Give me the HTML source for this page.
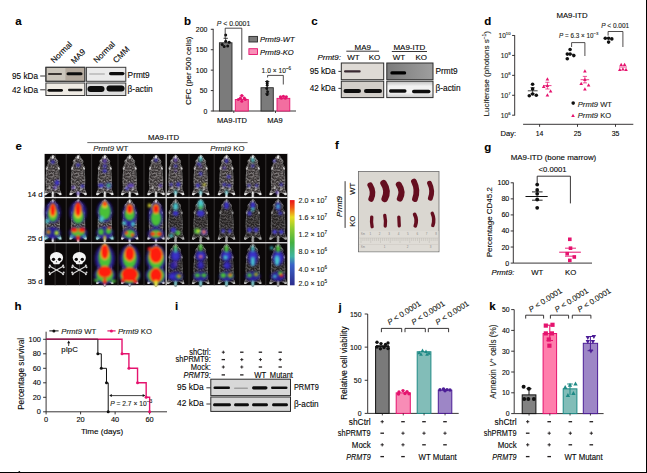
<!DOCTYPE html><html><head><meta charset="utf-8"><style>html,body{margin:0;padding:0;background:#fff;overflow:hidden;}svg{display:block;font-family:"Liberation Sans",sans-serif;}text{stroke:#231f20;stroke-width:0.12px;}text[fill="#888"]{stroke:none;}</style></head><body><svg width="647" height="473" viewBox="0 0 647 473"><rect width="647" height="473" fill="#fff"/><text x="15.3" y="25" font-size="11.5" font-weight="bold" fill="#000" >a</text>
<text x="184" y="25.2" font-size="11.5" font-weight="bold" fill="#000" >b</text>
<text x="311.2" y="25.2" font-size="11.5" font-weight="bold" fill="#000" >c</text>
<text x="484.3" y="25.3" font-size="11.5" font-weight="bold" fill="#000" >d</text>
<text x="15.5" y="149.6" font-size="11.5" font-weight="bold" fill="#000" >e</text>
<text x="335" y="149.3" font-size="11.5" font-weight="bold" fill="#000" >f</text>
<text x="484.2" y="150.8" font-size="11.5" font-weight="bold" fill="#000" >g</text>
<text x="14.6" y="310" font-size="11.5" font-weight="bold" fill="#000" >h</text>
<text x="175" y="310.2" font-size="11.5" font-weight="bold" fill="#000" >i</text>
<text x="338.5" y="311" font-size="11.5" font-weight="bold" fill="#000" >j</text>
<text x="489.2" y="310.2" font-size="11.5" font-weight="bold" fill="#000" >k</text>
<rect x="646" y="0" width="1" height="473" fill="#000" />
<rect x="0" y="472" width="647" height="1" fill="#000" />
<text x="54" y="63.6" font-size="8.2" transform="rotate(-45 54 63.6)" >Normal</text>
<text x="74.2" y="64.3" font-size="8.2" transform="rotate(-45 74.2 64.3)" >MA9</text>
<text x="96.8" y="63.6" font-size="8.2" transform="rotate(-45 96.8 63.6)" >Normal</text>
<text x="116.3" y="63.6" font-size="8.2" transform="rotate(-45 116.3 63.6)" >CMM</text>
<text x="38.0" y="79.3" font-size="8.2" text-anchor="end" >95 kDa</text>
<line x1="40.2" y1="76.0" x2="45.5" y2="76.0" stroke="#231f20" stroke-width="0.9" />
<text x="38.0" y="93" font-size="8.2" text-anchor="end" >42 kDa</text>
<line x1="40.2" y1="89.8" x2="45.5" y2="89.8" stroke="#231f20" stroke-width="0.9" />
<defs><linearGradient id="ga1" x1="0" x2="1"><stop offset="0" stop-color="#cfc9c0"/><stop offset="0.45" stop-color="#c9c2b8"/><stop offset="0.55" stop-color="#b5aa9e"/><stop offset="1" stop-color="#b9ae a2"/></linearGradient><filter id="bl" x="-20%" y="-50%" width="140%" height="200%"><feGaussianBlur stdDeviation="0.6"/></filter><filter id="bl2" x="-30%" y="-30%" width="160%" height="160%"><feGaussianBlur stdDeviation="1"/></filter></defs>
<rect x="45.9" y="67.3" width="38.9" height="14" fill="#cbc5bb" stroke="#3a3a3a" stroke-width="1" />
<rect x="65.4" y="67.8" width="19" height="13" fill="#b4a99d" />
<rect x="45.9" y="67.3" width="38.9" height="14" fill="none" stroke="#3a3a3a" stroke-width="1" />
<rect x="45.9" y="83" width="38.9" height="12.5" fill="#efebe4" stroke="#3a3a3a" stroke-width="1" />
<rect x="86.4" y="67.3" width="39.4" height="14" fill="#eaeaea" stroke="#3a3a3a" stroke-width="1" />
<rect x="86.4" y="83" width="39.4" height="12.5" fill="#dedede" stroke="#3a3a3a" stroke-width="1" />
<rect x="48" y="73.1" width="14" height="1.8" rx="0.9" fill="#3a3530" opacity="1" filter="url(#bl)"/>
<rect x="66.5" y="72.3" width="16.0" height="3" rx="1.5" fill="#111" opacity="1" filter="url(#bl)"/>
<rect x="47.5" y="88.89999999999999" width="15.5" height="2.8" rx="1.4" fill="#111" opacity="1" filter="url(#bl)"/>
<rect x="68" y="88.85" width="14.5" height="2.3" rx="1.15" fill="#1a1a1a" opacity="1" filter="url(#bl)"/>
<rect x="89" y="73.25" width="16" height="1.5" rx="0.75" fill="#b8b8b8" opacity="1" filter="url(#bl)"/>
<rect x="109" y="72.0" width="15.5" height="3.2" rx="1.6" fill="#0a0a0a" opacity="1" filter="url(#bl)"/>
<rect x="87.5" y="86.0" width="17.0" height="6" rx="3.0" fill="#0a0a0a" opacity="1" filter="url(#bl)"/>
<rect x="106.5" y="85.5" width="18.0" height="6" rx="3.0" fill="#0a0a0a" opacity="1" filter="url(#bl)"/>
<text x="127.6" y="78" font-size="8.3" >Prmt9</text>
<text x="127.6" y="91.5" font-size="8.3" >β-actin</text>
<line x1="213.2" y1="28.799999999999997" x2="213.2" y2="111.4" stroke="#231f20" stroke-width="0.9" />
<line x1="213.2" y1="111.0" x2="296" y2="111.0" stroke="#231f20" stroke-width="0.9" />
<line x1="210.79999999999998" y1="111.0" x2="213.2" y2="111.0" stroke="#231f20" stroke-width="0.9" />
<text transform="translate(207.39999999999998,113.5) scale(0.95,1)" font-size="7.3" text-anchor="end">0</text>
<line x1="210.79999999999998" y1="90.575" x2="213.2" y2="90.575" stroke="#231f20" stroke-width="0.9" />
<text transform="translate(207.39999999999998,93.075) scale(0.95,1)" font-size="7.3" text-anchor="end">50</text>
<line x1="210.79999999999998" y1="70.15" x2="213.2" y2="70.15" stroke="#231f20" stroke-width="0.9" />
<text transform="translate(207.39999999999998,72.65) scale(0.95,1)" font-size="7.3" text-anchor="end">100</text>
<line x1="210.79999999999998" y1="49.724999999999994" x2="213.2" y2="49.724999999999994" stroke="#231f20" stroke-width="0.9" />
<text transform="translate(207.39999999999998,52.224999999999994) scale(0.95,1)" font-size="7.3" text-anchor="end">150</text>
<line x1="210.79999999999998" y1="29.299999999999997" x2="213.2" y2="29.299999999999997" stroke="#231f20" stroke-width="0.9" />
<text transform="translate(207.39999999999998,31.799999999999997) scale(0.95,1)" font-size="7.3" text-anchor="end">200</text>
<line x1="233.8" y1="111.0" x2="233.8" y2="113.0" stroke="#231f20" stroke-width="0.8" />
<line x1="275.5" y1="111.0" x2="275.5" y2="113.0" stroke="#231f20" stroke-width="0.8" />
<text x="191.1" y="70.7" font-size="7.9" text-anchor="middle" transform="rotate(-90 191.1 70.7)" >CFC (per 500 cells)</text>
<rect x="219.4" y="42.78049999999999" width="12.599999999999994" height="68.21950000000001" fill="#7b7b7b" stroke="#2a2a2a" stroke-width="0.9" />
<rect x="235.3" y="99.562" width="13.0" height="11.438000000000002" fill="#f36ea0" stroke="#e5136e" stroke-width="0.9" />
<rect x="261" y="87.71549999999999" width="12.300000000000011" height="23.28450000000001" fill="#7b7b7b" stroke="#2a2a2a" stroke-width="0.9" />
<rect x="277" y="98.3365" width="12.800000000000011" height="12.663499999999999" fill="#f36ea0" stroke="#e5136e" stroke-width="0.9" />
<line x1="225.7" y1="42.78049999999999" x2="225.7" y2="38.28699999999999" stroke="#111" stroke-width="0.8" />
<line x1="223.5" y1="38.28699999999999" x2="227.89999999999998" y2="38.28699999999999" stroke="#111" stroke-width="0.8" />
<circle cx="225.7" cy="35.01899999999999" r="1.5" fill="#111" />
<circle cx="222.2" cy="44.41449999999999" r="1.5" fill="#111" />
<circle cx="225.7" cy="41.14649999999999" r="1.5" fill="#111" />
<circle cx="229.2" cy="42.372" r="1.5" fill="#111" />
<circle cx="224.2" cy="46.456999999999994" r="1.5" fill="#111" />
<circle cx="227.7" cy="46.04849999999999" r="1.5" fill="#111" />
<line x1="241.8" y1="99.562" x2="241.8" y2="95.8855" stroke="#e5136e" stroke-width="0.8" />
<line x1="239.60000000000002" y1="95.8855" x2="244.0" y2="95.8855" stroke="#e5136e" stroke-width="0.8" />
<circle cx="241.8" cy="95.477" r="1.5" fill="#e5136e" />
<circle cx="238.3" cy="99.562" r="1.5" fill="#e5136e" />
<circle cx="245.3" cy="99.562" r="1.5" fill="#e5136e" />
<circle cx="241.8" cy="101.196" r="1.5" fill="#e5136e" />
<circle cx="240.3" cy="98.3365" r="1.5" fill="#e5136e" />
<circle cx="244.3" cy="97.928" r="1.5" fill="#e5136e" />
<line x1="267.2" y1="94.66" x2="267.2" y2="81.588" stroke="#111" stroke-width="0.9" />
<line x1="265" y1="81.588" x2="269.4" y2="81.588" stroke="#111" stroke-width="0.8" />
<line x1="265" y1="93.843" x2="269.4" y2="93.843" stroke="#111" stroke-width="0.8" />
<circle cx="267.2" cy="81.588" r="1.4" fill="#111" />
<circle cx="267.2" cy="85.2645" r="1.4" fill="#111" />
<circle cx="266.7" cy="88.5325" r="1.4" fill="#111" />
<circle cx="267.7" cy="91.8005" r="1.4" fill="#111" />
<circle cx="267.2" cy="94.66" r="1.4" fill="#111" />
<circle cx="267.2" cy="83.222" r="1.4" fill="#111" />
<line x1="283.4" y1="98.3365" x2="283.4" y2="96.294" stroke="#e5136e" stroke-width="0.8" />
<line x1="281.2" y1="96.294" x2="285.59999999999997" y2="96.294" stroke="#e5136e" stroke-width="0.8" />
<circle cx="280.4" cy="96.7025" r="1.5" fill="#e5136e" />
<circle cx="283.4" cy="96.294" r="1.5" fill="#e5136e" />
<circle cx="286.4" cy="96.7025" r="1.5" fill="#e5136e" />
<circle cx="281.4" cy="98.3365" r="1.5" fill="#e5136e" />
<circle cx="285.4" cy="98.3365" r="1.5" fill="#e5136e" />
<path d="M225.2,38.6 V28.2 H241.8 V59.8" fill="none" stroke="#231f20" stroke-width="0.8" />
<text x="216.7" y="25.9" font-size="7" ></text>
<text x="216.7" y="25.9" font-size="6.9" fill="#231f20"><tspan font-style="italic">P</tspan> &lt; 0.0001</text>
<path d="M267.6,77.5 V75.4 H283.3 V84.5" fill="none" stroke="#231f20" stroke-width="0.8" />
<text x="261.6" y="72.6" font-size="6.7" fill="#231f20">1.0 × 10<tspan dy="-3" font-size="4.5">−6</tspan></text>
<rect x="248.9" y="36.4" width="8.6" height="5.6" fill="#7b7b7b" stroke="#2a2a2a" stroke-width="0.9" />
<rect x="248.9" y="48.7" width="8.6" height="5.8" fill="#f890b8" stroke="#e5136e" stroke-width="0.9" />
<text x="260" y="42.3" font-size="7.6" font-style="italic" >Prmt9-WT</text>
<text x="260" y="54.6" font-size="7.6" font-style="italic" >Prmt9-KO</text>
<text x="217" y="123" font-size="7.5" >MA9-ITD</text>
<text x="267.2" y="123" font-size="7.5" >MA9</text>
<text x="362.7" y="49.5" font-size="8" text-anchor="middle" >MA9</text>
<line x1="346.3" y1="51.2" x2="379.1" y2="51.2" stroke="#231f20" stroke-width="0.9" />
<text x="409.4" y="49.5" font-size="8" text-anchor="middle" >MA9-ITD</text>
<line x1="391.8" y1="51.5" x2="427" y2="51.5" stroke="#231f20" stroke-width="0.9" />
<text x="317.4" y="59.8" font-size="8" font-style="italic" >Prmt9:</text>
<text x="347.2" y="59.8" font-size="8" >WT</text>
<text x="368.7" y="59.8" font-size="8" >KO</text>
<text x="392.7" y="59.8" font-size="8" >WT</text>
<text x="415.5" y="59.8" font-size="8" >KO</text>
<text x="335.6" y="73.7" font-size="8.2" text-anchor="end" >95 kDa</text>
<line x1="338.4" y1="71.4" x2="341.3" y2="71.4" stroke="#231f20" stroke-width="0.9" />
<text x="335.6" y="90.8" font-size="8.2" text-anchor="end" >42 kDa</text>
<line x1="338.4" y1="88.4" x2="341.3" y2="88.4" stroke="#231f20" stroke-width="0.9" />
<rect x="341.3" y="63" width="42.4" height="16.7" fill="#dedad5" stroke="#2c2c2c" stroke-width="1" />
<rect x="341.3" y="81.2" width="42.4" height="16.4" fill="#d2cec9" stroke="#2c2c2c" stroke-width="1" />
<defs><linearGradient id="gc2" x1="0" x2="1"><stop offset="0" stop-color="#7c7c7c"/><stop offset="1" stop-color="#9e9e9e"/></linearGradient><linearGradient id="gc3" x1="0" x2="0" y1="0" y2="1"><stop offset="0" stop-color="#bdbdbd"/><stop offset="0.3" stop-color="#f2f2f2"/><stop offset="0.7" stop-color="#f2f2f2"/><stop offset="1" stop-color="#c8c8c8"/></linearGradient></defs>
<rect x="386.8" y="63" width="46.2" height="16.7" fill="url(#gc2)" stroke="#2c2c2c" stroke-width="1" />
<rect x="386.8" y="81.2" width="46.2" height="16.4" fill="url(#gc3)" stroke="#2c2c2c" stroke-width="1" />
<rect x="344" y="70.25" width="16.69999999999999" height="2.3" rx="1.15" fill="#3a2a30" opacity="1" filter="url(#bl)"/>
<rect x="343.5" y="88.9" width="17.5" height="4.2" rx="2.1" fill="#0a0a0a" opacity="1" filter="url(#bl)"/>
<rect x="364" y="89.0" width="18" height="4" rx="2.0" fill="#0a0a0a" opacity="1" filter="url(#bl)"/>
<rect x="390.3" y="71.30000000000001" width="15.899999999999977" height="3.2" rx="1.6" fill="#050505" opacity="1" filter="url(#bl)"/>
<rect x="389" y="89.35" width="17.5" height="3.3" rx="1.65" fill="#0a0a0a" opacity="1" filter="url(#bl)"/>
<rect x="412" y="89.7" width="18.5" height="3.6" rx="1.8" fill="#0a0a0a" opacity="1" filter="url(#bl)"/>
<text x="435.5" y="74" font-size="8.3" >Prmt9</text>
<text x="435.5" y="91.3" font-size="8.3" >β-actin</text>
<text x="572" y="17.7" font-size="7.8" text-anchor="middle" >MA9-ITD</text>
<line x1="514.7" y1="35.18000000000001" x2="514.7" y2="115.5" stroke="#231f20" stroke-width="0.9" />
<line x1="512.1" y1="115.2" x2="514.7" y2="115.2" stroke="#231f20" stroke-width="0.9" />
<text x="510.50000000000006" y="117.5" font-size="6.6" text-anchor="end" fill="#231f20">10<tspan dy="-2.6" font-size="4.2">6</tspan></text>
<line x1="512.1" y1="95.27000000000001" x2="514.7" y2="95.27000000000001" stroke="#231f20" stroke-width="0.9" />
<text x="510.50000000000006" y="97.57000000000001" font-size="6.6" text-anchor="end" fill="#231f20">10<tspan dy="-2.6" font-size="4.2">7</tspan></text>
<line x1="512.1" y1="75.34" x2="514.7" y2="75.34" stroke="#231f20" stroke-width="0.9" />
<text x="510.50000000000006" y="77.64" font-size="6.6" text-anchor="end" fill="#231f20">10<tspan dy="-2.6" font-size="4.2">8</tspan></text>
<line x1="512.1" y1="55.410000000000004" x2="514.7" y2="55.410000000000004" stroke="#231f20" stroke-width="0.9" />
<text x="510.50000000000006" y="57.71" font-size="6.6" text-anchor="end" fill="#231f20">10<tspan dy="-2.6" font-size="4.2">9</tspan></text>
<line x1="512.1" y1="35.480000000000004" x2="514.7" y2="35.480000000000004" stroke="#231f20" stroke-width="0.9" />
<text x="510.50000000000006" y="37.78" font-size="6.6" text-anchor="end" fill="#231f20">10<tspan dy="-2.6" font-size="4.2">10</tspan></text>
<text transform="translate(489.0,73.8) rotate(-90)" font-size="8.1" text-anchor="middle" fill="#231f20">Luciferase (photons s<tspan dy="-2.6" font-size="4.8">−1</tspan><tspan dy="2.6">)</tspan></text>
<line x1="523.1" y1="124.3" x2="633.3" y2="124.3" stroke="#231f20" stroke-width="0.9" />
<line x1="539.6" y1="124.3" x2="539.6" y2="126.8" stroke="#231f20" stroke-width="0.9" />
<text x="539.6" y="136.1" font-size="6.9" text-anchor="middle" >14</text>
<line x1="577.5" y1="124.3" x2="577.5" y2="126.8" stroke="#231f20" stroke-width="0.9" />
<text x="577.5" y="136.1" font-size="6.9" text-anchor="middle" >25</text>
<line x1="615.5" y1="124.3" x2="615.5" y2="126.8" stroke="#231f20" stroke-width="0.9" />
<text x="615.5" y="136.1" font-size="6.9" text-anchor="middle" >35</text>
<text x="500.6" y="136.1" font-size="7.6" >Day:</text>
<circle cx="532.6" cy="84.3" r="1.8" fill="#111" />
<circle cx="529.3" cy="95.8" r="1.8" fill="#111" />
<circle cx="532.6" cy="94" r="1.8" fill="#111" />
<circle cx="536.3" cy="95.3" r="1.8" fill="#111" />
<circle cx="532.6" cy="89" r="1.8" fill="#111" />
<line x1="527.8" y1="90.8" x2="537.6" y2="90.8" stroke="#111" stroke-width="0.8" />
<line x1="530.5" y1="87.6" x2="534.7" y2="87.6" stroke="#111" stroke-width="0.7" />
<line x1="530.5" y1="93.6" x2="534.7" y2="93.6" stroke="#111" stroke-width="0.7" />
<line x1="532.6" y1="87.6" x2="532.6" y2="93.6" stroke="#111" stroke-width="0.7" />
<path d="M547.4,77.15599999999999 L549.1999999999999,80.396 L545.6,80.396 Z" fill="#e5136e"/>
<path d="M543.7,84.65599999999999 L545.5,87.896 L541.9000000000001,87.896 Z" fill="#e5136e"/>
<path d="M547.4,83.65599999999999 L549.1999999999999,86.896 L545.6,86.896 Z" fill="#e5136e"/>
<path d="M550.6,89.256 L552.4,92.49600000000001 L548.8000000000001,92.49600000000001 Z" fill="#e5136e"/>
<path d="M547.4,93.356 L549.1999999999999,96.596 L545.6,96.596 Z" fill="#e5136e"/>
<line x1="543.2" y1="85.6" x2="551.5" y2="85.6" stroke="#e5136e" stroke-width="0.8" />
<line x1="545.3" y1="82.3" x2="549.5" y2="82.3" stroke="#e5136e" stroke-width="0.7" />
<line x1="545.3" y1="89" x2="549.5" y2="89" stroke="#e5136e" stroke-width="0.7" />
<line x1="547.4" y1="82.3" x2="547.4" y2="89" stroke="#e5136e" stroke-width="0.7" />
<circle cx="570.1" cy="49.5" r="1.8" fill="#111" />
<circle cx="567.3" cy="54.1" r="1.8" fill="#111" />
<circle cx="570.1" cy="54.1" r="1.8" fill="#111" />
<circle cx="573.8" cy="55.6" r="1.8" fill="#111" />
<circle cx="567.3" cy="58.7" r="1.8" fill="#111" />
<line x1="566" y1="54.3" x2="574.5" y2="54.3" stroke="#111" stroke-width="0.8" />
<path d="M584.9,69.256 L586.6999999999999,72.49600000000001 L583.1,72.49600000000001 Z" fill="#e5136e"/>
<path d="M584.9,77.756 L586.6999999999999,80.99600000000001 L583.1,80.99600000000001 Z" fill="#e5136e"/>
<path d="M581.2,81.856 L583.0,85.096 L579.4000000000001,85.096 Z" fill="#e5136e"/>
<path d="M588.6,83.356 L590.4,86.596 L586.8000000000001,86.596 Z" fill="#e5136e"/>
<path d="M584.9,87.356 L586.6999999999999,90.596 L583.1,90.596 Z" fill="#e5136e"/>
<line x1="580.6" y1="79.7" x2="589.2" y2="79.7" stroke="#e5136e" stroke-width="0.8" />
<line x1="582.8" y1="76.4" x2="587" y2="76.4" stroke="#e5136e" stroke-width="0.7" />
<line x1="582.8" y1="82.9" x2="587" y2="82.9" stroke="#e5136e" stroke-width="0.7" />
<line x1="584.9" y1="76.4" x2="584.9" y2="82.9" stroke="#e5136e" stroke-width="0.7" />
<circle cx="605.3" cy="38.3" r="1.8" fill="#111" />
<circle cx="608.6" cy="38.3" r="1.8" fill="#111" />
<circle cx="611.8" cy="38.9" r="1.8" fill="#111" />
<circle cx="608.6" cy="42.1" r="1.8" fill="#111" />
<path d="M621.2,62.855999999999995 L623.0,66.096 L619.4000000000001,66.096 Z" fill="#e5136e"/>
<path d="M624.6,62.855999999999995 L626.4,66.096 L622.8000000000001,66.096 Z" fill="#e5136e"/>
<path d="M619.8,67.65599999999999 L621.5999999999999,70.896 L618.0,70.896 Z" fill="#e5136e"/>
<path d="M622.9,67.356 L624.6999999999999,70.596 L621.1,70.596 Z" fill="#e5136e"/>
<path d="M626.0,67.65599999999999 L627.8,70.896 L624.2,70.896 Z" fill="#e5136e"/>
<line x1="619" y1="67" x2="627" y2="67" stroke="#e5136e" stroke-width="0.8" />
<path d="M571.6,47 V42.6 H584.9 V56" fill="none" stroke="#231f20" stroke-width="0.8" />
<path d="M608.1,35.6 V31.5 H622.9 V47" fill="none" stroke="#231f20" stroke-width="0.8" />
<text x="559.1" y="38" font-size="6.3" fill="#231f20"><tspan font-style="italic">P</tspan> = 6.3 × 10<tspan dy="-2.6" font-size="4.3">−3</tspan></text>
<text x="601.2" y="27.8" font-size="6.5" fill="#231f20"><tspan font-style="italic">P</tspan> &lt; 0.001</text>
<circle cx="573.2" cy="103.1" r="1.8" fill="#111" />
<path d="M573,113.856 L574.8,117.096 L571.2,117.096 Z" fill="#e5136e"/>
<text x="577.8" y="106.5" font-size="7.6" fill="#231f20"><tspan font-style="italic">Prmt9</tspan> WT</text>
<text x="577.8" y="118.4" font-size="7.6" fill="#231f20"><tspan font-style="italic">Prmt9</tspan> KO</text>
<text x="163.5" y="140" font-size="7.8" text-anchor="middle" >MA9-ITD</text>
<line x1="87.3" y1="142.6" x2="247.6" y2="142.6" stroke="#555" stroke-width="0.9" />
<text x="93.2" y="151.3" font-size="7.8" fill="#231f20"><tspan font-style="italic">Prmt9</tspan> WT</text>
<text x="210.3" y="151.3" font-size="7.8" fill="#231f20"><tspan font-style="italic">Prmt9</tspan> KO</text>
<text x="42.6" y="197.1" font-size="7.8" text-anchor="end" >14 d</text>
<text x="42.6" y="241.0" font-size="7.8" text-anchor="end" >25 d</text>
<text x="42.6" y="284.1" font-size="7.8" text-anchor="end" >35 d</text>
<defs>
<linearGradient id="cbar" x1="0" x2="0" y1="0" y2="1">
<stop offset="0" stop-color="#e8101a"/><stop offset="0.09" stop-color="#f05a14"/><stop offset="0.2" stop-color="#e8dc20"/>
<stop offset="0.33" stop-color="#90cc30"/><stop offset="0.5" stop-color="#44b040"/><stop offset="0.66" stop-color="#40b4a0"/><stop offset="0.76" stop-color="#3a62c8"/>
<stop offset="1" stop-color="#2c2c8c"/></linearGradient>
<filter id="hb" x="-60%" y="-60%" width="220%" height="220%"><feGaussianBlur stdDeviation="1.0"/></filter>
<filter id="hbb" x="-60%" y="-60%" width="220%" height="220%"><feGaussianBlur stdDeviation="1.3"/></filter>
<filter id="hb2" x="-50%" y="-50%" width="200%" height="200%"><feGaussianBlur stdDeviation="0.55"/></filter>
<filter id="speck" x="-10%" y="-5%" width="120%" height="110%" color-interpolation-filters="sRGB">
<feTurbulence type="fractalNoise" baseFrequency="0.6" numOctaves="2" seed="5" result="t"/>
<feColorMatrix in="t" type="matrix" values="0 0 0 0 0.88 0 0 0 0 0.86 0 0 0 0 0.86 1.15 0 0 0 -0.4" result="w"/>
<feComposite in="w" in2="SourceAlpha" operator="in" result="ws"/>
<feMerge><feMergeNode in="SourceGraphic"/><feMergeNode in="ws"/></feMerge>
</filter>
<path id="mbody" d="M0,0 L1.5,0.9 L2.5,2.8 L3.2,5.0 L4.0,4.8 L4.6,6.4 L4.1,8.6 L5.0,10.4 L6.0,12.2 L6.0,14.2 L5.6,16.5 L6.1,21.0 L6.3,27.0 L5.9,32.0 L6.1,35.0 L7.1,37.4 L7.7,39.6 L6.6,40.4 L4.8,39.2 L3.0,37.8 L1.0,38.4 L0.8,43.0 L-0.8,43.0 L-1.0,38.4 L-3.0,37.8 L-4.8,39.2 L-6.6,40.4 L-7.7,39.6 L-7.1,37.4 L-6.1,35.0 L-5.9,32.0 L-6.3,27.0 L-6.1,21.0 L-5.6,16.5 L-6.0,14.2 L-6.0,12.2 L-5.0,10.4 L-4.1,8.6 L-4.6,6.4 L-4.0,4.8 L-3.2,5.0 L-2.5,2.8 L-1.5,0.9 Z"/>
<g id="mhl" fill="#f2f2f2" opacity="0.9">
<path d="M4.4,11.4 L6.4,13.2 L6.0,15 L5.0,14.4 Z" opacity="0.75"/><path d="M-4.4,11.4 L-6.4,13.2 L-6.0,15 L-5.0,14.4 Z" opacity="0.75"/>
<path d="M4.6,38.6 L7.6,38.4 L8.2,40.6 L6.4,40.8 Z"/><path d="M-4.6,38.6 L-7.6,38.4 L-8.2,40.6 L-6.4,40.8 Z"/>
<rect x="-0.8" y="37" width="1.6" height="6"/><ellipse cx="0" cy="2.2" rx="1" ry="1.8"/>
<ellipse cx="3.6" cy="5.4" rx="0.8" ry="1.1" opacity="0.35"/><ellipse cx="-3.6" cy="5.4" rx="0.8" ry="1.1" opacity="0.35"/>
<ellipse cx="-3" cy="33" rx="1.2" ry="2" opacity="0.45"/><ellipse cx="3" cy="34" rx="1.2" ry="2" opacity="0.45"/>
</g>
</defs>
<rect x="44.6" y="153.9" width="243.4" height="131.29999999999998" fill="#0b0808" />
<rect x="54.6" y="153.9" width="1.0" height="131.29999999999998" fill="#363333" />
<rect x="65.7" y="153.9" width="1.0" height="131.29999999999998" fill="#363333" />
<rect x="79.0" y="153.9" width="1.0" height="131.29999999999998" fill="#363333" />
<rect x="91.1" y="153.9" width="1.0" height="131.29999999999998" fill="#363333" />
<rect x="117.5" y="153.9" width="1.0" height="131.29999999999998" fill="#363333" />
<rect x="143.5" y="153.9" width="1.0" height="131.29999999999998" fill="#363333" />
<rect x="188.5" y="153.9" width="1.0" height="131.29999999999998" fill="#363333" />
<rect x="213.7" y="153.9" width="1.0" height="131.29999999999998" fill="#363333" />
<rect x="239.3" y="153.9" width="1.0" height="131.29999999999998" fill="#363333" />
<rect x="265.3" y="153.9" width="1.0" height="131.29999999999998" fill="#363333" />
<g transform="translate(52.8,155.2) scale(1.078,0.98)"><use href="#mbody" fill="#363131" stroke="#6a6a6a" stroke-width="0.7" stroke-linejoin="round" filter="url(#speck)"/><use href="#mhl" filter="url(#hb2)"/><g filter="url(#hb)"><ellipse cx="0" cy="7" rx="1.8" ry="1.8" fill="#3a30c8"/><ellipse cx="4" cy="28" rx="2.2" ry="2.8" fill="#3a30c8"/><ellipse cx="2" cy="33" rx="1.6" ry="1.6" fill="#6040c0"/></g></g>
<g transform="translate(78.1,155.2) scale(1.078,0.98)"><use href="#mbody" fill="#363131" stroke="#6a6a6a" stroke-width="0.7" stroke-linejoin="round" filter="url(#speck)"/><use href="#mhl" filter="url(#hb2)"/><g filter="url(#hb)"><ellipse cx="0" cy="10" rx="1.8" ry="1.6" fill="#3a30c8"/><ellipse cx="-4.5" cy="33" rx="1.6" ry="1.6" fill="#6040c0"/><ellipse cx="4" cy="31.5" rx="1.8" ry="1.6" fill="#3a30c8"/><ellipse cx="0" cy="39" rx="1.4" ry="1.6" fill="#6040c0"/></g></g>
<g transform="translate(104.8,155.2) scale(1.078,0.98)"><use href="#mbody" fill="#363131" stroke="#6a6a6a" stroke-width="0.7" stroke-linejoin="round" filter="url(#speck)"/><use href="#mhl" filter="url(#hb2)"/><g filter="url(#hb)"><ellipse cx="0" cy="6" rx="1.8" ry="2.2" fill="#6040c0"/><ellipse cx="0" cy="11" rx="1.8" ry="1.6" fill="#3a30c8"/><ellipse cx="0" cy="16" rx="2" ry="1.8" fill="#3a30c8"/><ellipse cx="-3.5" cy="31" rx="2.6" ry="2" fill="#3a30c8"/><ellipse cx="3.5" cy="31" rx="2.6" ry="3" fill="#3a30c8"/><ellipse cx="3.5" cy="31" rx="1.4" ry="1.8" fill="#48c038"/></g></g>
<g transform="translate(129.7,155.2) scale(1.078,0.98)"><use href="#mbody" fill="#363131" stroke="#6a6a6a" stroke-width="0.7" stroke-linejoin="round" filter="url(#speck)"/><use href="#mhl" filter="url(#hb2)"/><g filter="url(#hb)"><ellipse cx="1" cy="31" rx="3" ry="2" fill="#6040c0"/><ellipse cx="-2.5" cy="34" rx="1.6" ry="1.6" fill="#3a30c8"/></g></g>
<g transform="translate(156,155.2) scale(1.078,0.98)"><use href="#mbody" fill="#363131" stroke="#6a6a6a" stroke-width="0.7" stroke-linejoin="round" filter="url(#speck)"/><use href="#mhl" filter="url(#hb2)"/><g filter="url(#hb)"><ellipse cx="0" cy="5" rx="1.6" ry="1.6" fill="#3a30c8"/><ellipse cx="4" cy="31" rx="1.6" ry="1.6" fill="#6040c0"/></g></g>
<g transform="translate(175.6,155.2) scale(1.078,0.98)"><use href="#mbody" fill="#363131" stroke="#6a6a6a" stroke-width="0.7" stroke-linejoin="round" filter="url(#speck)"/><use href="#mhl" filter="url(#hb2)"/><g filter="url(#hb)"><ellipse cx="0" cy="5" rx="1.4" ry="2.2" fill="#6040c0"/><ellipse cx="0" cy="11" rx="1.4" ry="1.6" fill="#3a30c8"/><ellipse cx="-4" cy="30" rx="1.3" ry="1.6" fill="#3a30c8"/><ellipse cx="2.5" cy="30" rx="1.8" ry="2.4" fill="#3a30c8"/><ellipse cx="0" cy="38" rx="1.1" ry="2.4" fill="#48c8d0"/><ellipse cx="0" cy="16" rx="1" ry="1" fill="#6040c0"/></g></g>
<g transform="translate(200.7,155.2) scale(1.078,0.98)"><use href="#mbody" fill="#363131" stroke="#6a6a6a" stroke-width="0.7" stroke-linejoin="round" filter="url(#speck)"/><use href="#mhl" filter="url(#hb2)"/><g filter="url(#hb)"><ellipse cx="0" cy="4" rx="1.4" ry="2.6" fill="#48c8d0"/><ellipse cx="-1.5" cy="9" rx="1.8" ry="1.6" fill="#3a30c8"/><ellipse cx="0" cy="19" rx="1.4" ry="2" fill="#3a30c8"/><ellipse cx="-2.5" cy="31" rx="1.8" ry="2" fill="#3a30c8"/><ellipse cx="3.5" cy="30" rx="1.4" ry="1.2" fill="#e8e830"/><ellipse cx="0" cy="38" rx="1" ry="2.6" fill="#48c8d0"/><ellipse cx="0" cy="12" rx="1" ry="1" fill="#6040c0"/></g></g>
<g transform="translate(226.5,155.2) scale(1.078,0.98)"><use href="#mbody" fill="#363131" stroke="#6a6a6a" stroke-width="0.7" stroke-linejoin="round" filter="url(#speck)"/><use href="#mhl" filter="url(#hb2)"/><g filter="url(#hb)"><ellipse cx="0" cy="6" rx="1.6" ry="2" fill="#3a30c8"/><ellipse cx="-2" cy="13" rx="1.4" ry="1.4" fill="#6040c0"/><ellipse cx="2" cy="22" rx="1.6" ry="1.8" fill="#3a30c8"/><ellipse cx="-2" cy="30" rx="1.6" ry="1.6" fill="#3a30c8"/><ellipse cx="2.5" cy="31" rx="1.6" ry="1.6" fill="#3a30c8"/><ellipse cx="0" cy="38" rx="1" ry="2.4" fill="#48c8d0"/></g></g>
<g transform="translate(252.8,155.2) scale(1.078,0.98)"><use href="#mbody" fill="#363131" stroke="#6a6a6a" stroke-width="0.7" stroke-linejoin="round" filter="url(#speck)"/><use href="#mhl" filter="url(#hb2)"/><g filter="url(#hb)"><ellipse cx="0" cy="5" rx="1.4" ry="2.4" fill="#48c8d0"/><ellipse cx="0" cy="11" rx="1.4" ry="1.4" fill="#3a30c8"/><ellipse cx="-3.5" cy="31" rx="1.4" ry="1.4" fill="#3a30c8"/><ellipse cx="3.5" cy="31" rx="1.4" ry="1.4" fill="#3a30c8"/></g></g>
<g transform="translate(278.1,155.2) scale(1.078,0.98)"><use href="#mbody" fill="#363131" stroke="#6a6a6a" stroke-width="0.7" stroke-linejoin="round" filter="url(#speck)"/><use href="#mhl" filter="url(#hb2)"/><g filter="url(#hb)"><ellipse cx="-3.5" cy="6" rx="1.3" ry="1.3" fill="#3a30c8"/><ellipse cx="3" cy="30" rx="1.4" ry="1.6" fill="#3a30c8"/><ellipse cx="-1" cy="38" rx="1.1" ry="2" fill="#6040c0"/></g></g>
<g transform="translate(52.8,199.6) scale(1.078,0.98)"><use href="#mbody" fill="#363131" stroke="#6a6a6a" stroke-width="0.7" stroke-linejoin="round" filter="url(#speck)"/><use href="#mhl" filter="url(#hb2)"/><g filter="url(#hbb)"><ellipse cx="0" cy="13" rx="7" ry="11" fill="#2a1c9a"/><ellipse cx="0" cy="34" rx="7" ry="6" fill="#2a1c9a"/></g><g filter="url(#hb)"><ellipse cx="0" cy="15" rx="4.6" ry="7.5" fill="#48c038"/><ellipse cx="-4" cy="33" rx="2.2" ry="2.6" fill="#48c038"/><ellipse cx="3.5" cy="34" rx="2.2" ry="2.6" fill="#48c038"/><ellipse cx="0" cy="11" rx="3.3" ry="7.2" fill="#e8e830"/><ellipse cx="0" cy="10.5" rx="2.6" ry="6.5" fill="#ff1a10"/><ellipse cx="-4" cy="33" rx="1.3" ry="1.5" fill="#ff1a10"/><ellipse cx="3.5" cy="34" rx="1.3" ry="1.5" fill="#e8e830"/><ellipse cx="-6" cy="39" rx="1.6" ry="1.4" fill="#48c8d0"/><ellipse cx="6" cy="39" rx="1.6" ry="1.4" fill="#48c8d0"/><ellipse cx="-5" cy="22" rx="1.6" ry="2.5" fill="#48c8d0"/></g></g>
<g transform="translate(78.1,199.6) scale(1.078,0.98)"><use href="#mbody" fill="#363131" stroke="#6a6a6a" stroke-width="0.7" stroke-linejoin="round" filter="url(#speck)"/><use href="#mhl" filter="url(#hb2)"/><g filter="url(#hbb)"><ellipse cx="0" cy="13" rx="7.5" ry="11.5" fill="#2a1c9a"/><ellipse cx="0" cy="34" rx="8" ry="6.5" fill="#2a1c9a"/></g><g filter="url(#hb)"><ellipse cx="0" cy="17" rx="5.2" ry="7.5" fill="#48c038"/><ellipse cx="0" cy="33" rx="6.5" ry="4.6" fill="#48c038"/><ellipse cx="0" cy="11" rx="3.7" ry="8" fill="#e8e830"/><ellipse cx="0" cy="10" rx="3" ry="7.2" fill="#ff1a10"/><ellipse cx="-3.5" cy="31" rx="3" ry="2.4" fill="#ff1a10"/><ellipse cx="3.5" cy="31" rx="3" ry="2.4" fill="#ff1a10"/><ellipse cx="0" cy="39" rx="1.5" ry="3" fill="#ff1a10"/><ellipse cx="-6" cy="38" rx="1.6" ry="1.4" fill="#48c8d0"/><ellipse cx="6" cy="38" rx="1.6" ry="1.4" fill="#48c8d0"/></g></g>
<g transform="translate(104.8,199.6) scale(1.078,0.98)"><use href="#mbody" fill="#363131" stroke="#6a6a6a" stroke-width="0.7" stroke-linejoin="round" filter="url(#speck)"/><use href="#mhl" filter="url(#hb2)"/><g filter="url(#hbb)"><ellipse cx="0" cy="12" rx="7" ry="11" fill="#2a1c9a"/><ellipse cx="0" cy="34" rx="7.5" ry="6.5" fill="#2a1c9a"/></g><g filter="url(#hb)"><ellipse cx="0" cy="12" rx="5.5" ry="8.5" fill="#48c038"/><ellipse cx="-3.5" cy="33" rx="2.6" ry="3.2" fill="#48c038"/><ellipse cx="3.5" cy="32" rx="2.6" ry="3.2" fill="#48c038"/><ellipse cx="0" cy="5" rx="2.6" ry="3.5" fill="#e8e830"/><ellipse cx="0" cy="4.5" rx="2" ry="2.6" fill="#ff1a10"/><ellipse cx="4" cy="29" rx="1.4" ry="1.4" fill="#ff1a10"/><ellipse cx="-6.5" cy="39" rx="2" ry="1.2" fill="#48c8d0"/><ellipse cx="6.5" cy="39" rx="2" ry="1.2" fill="#48c8d0"/><ellipse cx="0" cy="39" rx="1.2" ry="2.6" fill="#e8e830"/><ellipse cx="-3" cy="20" rx="2" ry="3" fill="#48c8d0"/></g></g>
<g transform="translate(129.7,199.6) scale(1.078,0.98)"><use href="#mbody" fill="#363131" stroke="#6a6a6a" stroke-width="0.7" stroke-linejoin="round" filter="url(#speck)"/><use href="#mhl" filter="url(#hb2)"/><g filter="url(#hbb)"><ellipse cx="0" cy="16" rx="6.5" ry="12" fill="#2a1c9a"/><ellipse cx="0" cy="35" rx="7" ry="6" fill="#2a1c9a"/></g><g filter="url(#hb)"><ellipse cx="0" cy="15" rx="4.8" ry="6.5" fill="#48c038"/><ellipse cx="0" cy="35" rx="5" ry="4.2" fill="#48c038"/><ellipse cx="0" cy="9.5" rx="3.4" ry="5.2" fill="#e8e830"/><ellipse cx="0" cy="9.5" rx="2.8" ry="4.5" fill="#ff1a10"/><ellipse cx="-3" cy="34" rx="1.6" ry="1.6" fill="#ff1a10"/><ellipse cx="2.5" cy="36" rx="1.6" ry="1.6" fill="#ff1a10"/><ellipse cx="-5" cy="24" rx="2" ry="2" fill="#48c8d0"/><ellipse cx="3" cy="25" rx="1.8" ry="2.5" fill="#48c8d0"/></g></g>
<g transform="translate(156,199.6) scale(1.078,0.98)"><use href="#mbody" fill="#363131" stroke="#6a6a6a" stroke-width="0.7" stroke-linejoin="round" filter="url(#speck)"/><use href="#mhl" filter="url(#hb2)"/><g filter="url(#hbb)"><ellipse cx="0" cy="16" rx="6.5" ry="13" fill="#2a1c9a"/><ellipse cx="0" cy="35" rx="7.5" ry="6" fill="#2a1c9a"/></g><g filter="url(#hb)"><ellipse cx="0" cy="19" rx="4.8" ry="8" fill="#48c038"/><ellipse cx="0" cy="35" rx="5.5" ry="4.2" fill="#48c038"/><ellipse cx="0" cy="9.5" rx="3.4" ry="5.2" fill="#e8e830"/><ellipse cx="0" cy="9.5" rx="2.8" ry="4.5" fill="#ff1a10"/><ellipse cx="-3" cy="35" rx="2.4" ry="2" fill="#ff1a10"/><ellipse cx="3" cy="35" rx="2.4" ry="2" fill="#ff1a10"/><ellipse cx="-6" cy="6" rx="1.5" ry="2" fill="#e8e830"/></g></g>
<g transform="translate(175.6,199.6) scale(1.078,0.98)"><use href="#mbody" fill="#363131" stroke="#6a6a6a" stroke-width="0.7" stroke-linejoin="round" filter="url(#speck)"/><use href="#mhl" filter="url(#hb2)"/><use href="#mbody" fill="#000" opacity="0.3"/><g filter="url(#hb)"><ellipse cx="0" cy="7" rx="2.2" ry="3.6" fill="#48c8d0"/><ellipse cx="0" cy="14" rx="2.6" ry="2.6" fill="#3a30c8"/><ellipse cx="-2" cy="31" rx="2.6" ry="2.6" fill="#3a30c8"/><ellipse cx="2" cy="34" rx="2.2" ry="2.2" fill="#48c038"/><ellipse cx="-4" cy="37" rx="1.8" ry="1.8" fill="#48c8d0"/></g></g>
<g transform="translate(200.7,199.6) scale(1.078,0.98)"><use href="#mbody" fill="#363131" stroke="#6a6a6a" stroke-width="0.7" stroke-linejoin="round" filter="url(#speck)"/><use href="#mhl" filter="url(#hb2)"/><use href="#mbody" fill="#000" opacity="0.3"/><g filter="url(#hb)"><ellipse cx="0" cy="5" rx="2.6" ry="4.5" fill="#48c8d0"/><ellipse cx="0" cy="8" rx="1.4" ry="2.6" fill="#48c038"/><ellipse cx="0" cy="14" rx="3.5" ry="3.5" fill="#3a30c8"/><ellipse cx="-3" cy="32" rx="3" ry="2.6" fill="#48c038"/><ellipse cx="3" cy="33" rx="3" ry="2.6" fill="#3a30c8"/><ellipse cx="3" cy="33" rx="1.6" ry="1.6" fill="#ff8010"/><ellipse cx="-2" cy="32" rx="1.3" ry="1.3" fill="#e8e830"/></g></g>
<g transform="translate(226.5,199.6) scale(1.078,0.98)"><use href="#mbody" fill="#363131" stroke="#6a6a6a" stroke-width="0.7" stroke-linejoin="round" filter="url(#speck)"/><use href="#mhl" filter="url(#hb2)"/><use href="#mbody" fill="#000" opacity="0.3"/><g filter="url(#hb)"><ellipse cx="0" cy="6" rx="2.2" ry="3.6" fill="#3a30c8"/><ellipse cx="-3" cy="32" rx="1.8" ry="1.8" fill="#3a30c8"/><ellipse cx="3" cy="32" rx="1.8" ry="1.8" fill="#3a30c8"/></g></g>
<g transform="translate(252.8,199.6) scale(1.078,0.98)"><use href="#mbody" fill="#363131" stroke="#6a6a6a" stroke-width="0.7" stroke-linejoin="round" filter="url(#speck)"/><use href="#mhl" filter="url(#hb2)"/><use href="#mbody" fill="#000" opacity="0.3"/><g filter="url(#hb)"><ellipse cx="0" cy="6" rx="2.2" ry="3.6" fill="#3a30c8"/><ellipse cx="0" cy="10" rx="1.3" ry="1.8" fill="#48c8d0"/><ellipse cx="-3" cy="14" rx="1.8" ry="2.6" fill="#3a30c8"/><ellipse cx="-3" cy="31" rx="2.2" ry="2.2" fill="#3a30c8"/><ellipse cx="3" cy="31" rx="2.2" ry="2.2" fill="#3a30c8"/></g></g>
<g transform="translate(278.1,199.6) scale(1.078,0.98)"><use href="#mbody" fill="#363131" stroke="#6a6a6a" stroke-width="0.7" stroke-linejoin="round" filter="url(#speck)"/><use href="#mhl" filter="url(#hb2)"/><use href="#mbody" fill="#000" opacity="0.3"/><g filter="url(#hb)"><ellipse cx="0" cy="7" rx="2.2" ry="4" fill="#3a30c8"/><ellipse cx="0" cy="7" rx="1.1" ry="1.8" fill="#48c8d0"/><ellipse cx="2" cy="14" rx="1.8" ry="1.8" fill="#3a30c8"/><ellipse cx="-3" cy="33" rx="2.2" ry="2.2" fill="#3a30c8"/><ellipse cx="3" cy="33" rx="2.2" ry="2.2" fill="#3a30c8"/></g></g>
<g fill="#f4f4f4"><ellipse cx="56.5" cy="257.8" rx="6.6" ry="5.9"/><rect x="53.1" y="260.5" width="6.8" height="3.8" rx="1.2"/></g><g fill="#0b0808"><circle cx="53.5" cy="259.3" r="1.65"/><circle cx="59.5" cy="259.3" r="1.65"/><path d="M56.5,260.9 L57.3,262.3 L55.7,262.3 Z"/></g><g stroke="#d8d8d8" stroke-width="1.1" stroke-linecap="round"><line x1="50.3" y1="266.4" x2="62.7" y2="273.4"/><line x1="62.7" y1="266.4" x2="50.3" y2="273.4"/></g><g fill="#d8d8d8"><circle cx="49.9" cy="265.6" r="1"/><circle cx="49.3" cy="267.2" r="1"/><circle cx="63.1" cy="265.6" r="1"/><circle cx="63.7" cy="267.2" r="1"/><circle cx="49.9" cy="274.2" r="1"/><circle cx="49.3" cy="272.6" r="1"/><circle cx="63.1" cy="274.2" r="1"/><circle cx="63.7" cy="272.6" r="1"/></g>
<g fill="#f4f4f4"><ellipse cx="79.3" cy="257.8" rx="6.6" ry="5.9"/><rect x="75.89999999999999" y="260.5" width="6.8" height="3.8" rx="1.2"/></g><g fill="#0b0808"><circle cx="76.3" cy="259.3" r="1.65"/><circle cx="82.3" cy="259.3" r="1.65"/><path d="M79.3,260.9 L80.1,262.3 L78.5,262.3 Z"/></g><g stroke="#d8d8d8" stroke-width="1.1" stroke-linecap="round"><line x1="73.1" y1="266.4" x2="85.5" y2="273.4"/><line x1="85.5" y1="266.4" x2="73.1" y2="273.4"/></g><g fill="#d8d8d8"><circle cx="72.7" cy="265.6" r="1"/><circle cx="72.1" cy="267.2" r="1"/><circle cx="85.89999999999999" cy="265.6" r="1"/><circle cx="86.5" cy="267.2" r="1"/><circle cx="72.7" cy="274.2" r="1"/><circle cx="72.1" cy="272.6" r="1"/><circle cx="85.89999999999999" cy="274.2" r="1"/><circle cx="86.5" cy="272.6" r="1"/></g>
<g transform="translate(104.8,244.0) scale(1.078,0.98)"><use href="#mbody" fill="#363131" stroke="#6a6a6a" stroke-width="0.7" stroke-linejoin="round" filter="url(#speck)"/><use href="#mhl" filter="url(#hb2)"/><g filter="url(#hbb)"><ellipse cx="0" cy="15" rx="9" ry="14" fill="#2a1c9a"/><ellipse cx="0" cy="32" rx="9.5" ry="9" fill="#2a1c9a"/></g><g filter="url(#hb)"><ellipse cx="0" cy="14" rx="6" ry="11" fill="#48c038"/><ellipse cx="0" cy="31" rx="8" ry="8" fill="#48c038"/><ellipse cx="0" cy="8" rx="4.2" ry="8.2" fill="#e8e830"/><ellipse cx="0" cy="8" rx="3.6" ry="7.6" fill="#ff1a10"/><ellipse cx="0" cy="28.5" rx="6.5" ry="6" fill="#ff1a10"/><ellipse cx="0" cy="38" rx="1.6" ry="3" fill="#ff1a10"/><ellipse cx="-8" cy="37" rx="2" ry="1.4" fill="#48c038"/><ellipse cx="8" cy="38" rx="2.4" ry="1.4" fill="#48c038"/></g></g>
<g transform="translate(129.7,244.0) scale(1.078,0.98)"><use href="#mbody" fill="#363131" stroke="#6a6a6a" stroke-width="0.7" stroke-linejoin="round" filter="url(#speck)"/><use href="#mhl" filter="url(#hb2)"/><g filter="url(#hbb)"><ellipse cx="0" cy="15" rx="9" ry="14" fill="#2a1c9a"/><ellipse cx="0" cy="32" rx="9.5" ry="9" fill="#2a1c9a"/></g><g filter="url(#hb)"><ellipse cx="0" cy="14" rx="6.5" ry="11" fill="#48c038"/><ellipse cx="0" cy="32" rx="9" ry="8" fill="#48c038"/><ellipse cx="0" cy="10" rx="5" ry="8" fill="#e8e830"/><ellipse cx="0" cy="10" rx="4.5" ry="7.5" fill="#ff1a10"/><ellipse cx="0" cy="31" rx="7.5" ry="7" fill="#ff1a10"/><ellipse cx="-6" cy="37" rx="2" ry="2" fill="#ff1a10"/><ellipse cx="5" cy="38" rx="2" ry="2" fill="#ff1a10"/></g></g>
<g transform="translate(156,244.0) scale(1.078,0.98)"><use href="#mbody" fill="#363131" stroke="#6a6a6a" stroke-width="0.7" stroke-linejoin="round" filter="url(#speck)"/><use href="#mhl" filter="url(#hb2)"/><g filter="url(#hbb)"><ellipse cx="0" cy="15" rx="9" ry="14" fill="#2a1c9a"/><ellipse cx="0" cy="32" rx="9.5" ry="9" fill="#2a1c9a"/></g><g filter="url(#hb)"><ellipse cx="0" cy="14" rx="7.5" ry="11" fill="#48c038"/><ellipse cx="0" cy="32" rx="8" ry="8" fill="#48c038"/><ellipse cx="0" cy="11" rx="6.5" ry="9" fill="#e8e830"/><ellipse cx="0" cy="11" rx="6" ry="8.5" fill="#ff1a10"/><ellipse cx="-6" cy="5" rx="1.8" ry="2" fill="#ff1a10"/><ellipse cx="0" cy="32" rx="5.5" ry="7.5" fill="#ff1a10"/><ellipse cx="0" cy="40" rx="1.8" ry="3" fill="#e8e830"/></g></g>
<g transform="translate(175.6,244.0) scale(1.078,0.98)"><use href="#mbody" fill="#363131" stroke="#6a6a6a" stroke-width="0.7" stroke-linejoin="round" filter="url(#speck)"/><use href="#mhl" filter="url(#hb2)"/><use href="#mbody" fill="#000" opacity="0.3"/><g filter="url(#hbb)"><ellipse cx="0" cy="12" rx="4.5" ry="6" fill="#2a1c9a"/><ellipse cx="0" cy="33" rx="6.5" ry="5" fill="#2a1c9a"/><ellipse cx="-2" cy="22" rx="3" ry="4" fill="#2a1c9a"/></g><g filter="url(#hb)"><ellipse cx="0" cy="12" rx="3" ry="4" fill="#3a30c8"/><ellipse cx="0" cy="5" rx="1.6" ry="3.5" fill="#48c038"/><ellipse cx="0" cy="6" rx="0.9" ry="2.2" fill="#48c8d0"/><ellipse cx="-3" cy="33" rx="2.4" ry="2.4" fill="#3a30c8"/><ellipse cx="3" cy="33" rx="2.4" ry="2.4" fill="#48c038"/><ellipse cx="3.5" cy="32.5" rx="1.2" ry="1.2" fill="#ff1a10"/><ellipse cx="0" cy="40" rx="1" ry="2.5" fill="#48c8d0"/><ellipse cx="0" cy="20" rx="1" ry="3" fill="#6040c0"/></g></g>
<g transform="translate(200.7,244.0) scale(1.078,0.98)"><use href="#mbody" fill="#363131" stroke="#6a6a6a" stroke-width="0.7" stroke-linejoin="round" filter="url(#speck)"/><use href="#mhl" filter="url(#hb2)"/><use href="#mbody" fill="#000" opacity="0.3"/><g filter="url(#hbb)"><ellipse cx="0" cy="12" rx="4.5" ry="6" fill="#2a1c9a"/><ellipse cx="0" cy="33" rx="6.5" ry="5" fill="#2a1c9a"/><ellipse cx="0" cy="22" rx="3" ry="4" fill="#2a1c9a"/></g><g filter="url(#hb)"><ellipse cx="0" cy="12" rx="3.5" ry="3" fill="#3a30c8"/><ellipse cx="0" cy="4" rx="1.6" ry="3.5" fill="#48c038"/><ellipse cx="0" cy="13" rx="1.2" ry="1.2" fill="#ff8010"/><ellipse cx="0" cy="21" rx="1.5" ry="2.5" fill="#3a30c8"/><ellipse cx="-3" cy="32" rx="2.4" ry="2.2" fill="#48c038"/><ellipse cx="3" cy="32" rx="2.4" ry="2.2" fill="#48c038"/><ellipse cx="0" cy="40" rx="1" ry="3" fill="#48c8d0"/></g></g>
<g transform="translate(226.5,244.0) scale(1.078,0.98)"><use href="#mbody" fill="#363131" stroke="#6a6a6a" stroke-width="0.7" stroke-linejoin="round" filter="url(#speck)"/><use href="#mhl" filter="url(#hb2)"/><use href="#mbody" fill="#000" opacity="0.3"/><g filter="url(#hbb)"><ellipse cx="0" cy="12" rx="5" ry="6" fill="#2a1c9a"/><ellipse cx="0" cy="33" rx="6.5" ry="5" fill="#2a1c9a"/><ellipse cx="1" cy="22" rx="3" ry="4" fill="#2a1c9a"/></g><g filter="url(#hb)"><ellipse cx="0" cy="12" rx="3.5" ry="3.5" fill="#3a30c8"/><ellipse cx="0" cy="5" rx="1.8" ry="3.5" fill="#48c038"/><ellipse cx="-1" cy="14" rx="1.6" ry="2" fill="#48c8d0"/><ellipse cx="0" cy="22" rx="2.2" ry="2.5" fill="#3a30c8"/><ellipse cx="-3" cy="32" rx="2.6" ry="2.6" fill="#48c038"/><ellipse cx="3.5" cy="32" rx="2.6" ry="2.6" fill="#48c038"/><ellipse cx="3.5" cy="31.5" rx="1.3" ry="1.3" fill="#ff1a10"/><ellipse cx="0" cy="40" rx="1" ry="3" fill="#48c8d0"/></g></g>
<g transform="translate(252.8,244.0) scale(1.078,0.98)"><use href="#mbody" fill="#363131" stroke="#6a6a6a" stroke-width="0.7" stroke-linejoin="round" filter="url(#speck)"/><use href="#mhl" filter="url(#hb2)"/><use href="#mbody" fill="#000" opacity="0.3"/><g filter="url(#hbb)"><ellipse cx="0" cy="14" rx="4.5" ry="8" fill="#2a1c9a"/><ellipse cx="0" cy="33" rx="6.5" ry="5" fill="#2a1c9a"/></g><g filter="url(#hb)"><ellipse cx="0" cy="12" rx="3.5" ry="4" fill="#3a30c8"/><ellipse cx="0" cy="5" rx="1.4" ry="3" fill="#48c8d0"/><ellipse cx="0" cy="18" rx="1.8" ry="4.5" fill="#48c8d0"/><ellipse cx="-3" cy="32" rx="2.2" ry="2.2" fill="#48c038"/><ellipse cx="3" cy="31" rx="2.2" ry="2.2" fill="#48c038"/><ellipse cx="3" cy="31" rx="1" ry="1" fill="#ff1a10"/><ellipse cx="0" cy="40" rx="1" ry="3" fill="#48c8d0"/></g></g>
<g transform="translate(278.1,244.0) scale(1.078,0.98)"><use href="#mbody" fill="#363131" stroke="#6a6a6a" stroke-width="0.7" stroke-linejoin="round" filter="url(#speck)"/><use href="#mhl" filter="url(#hb2)"/><use href="#mbody" fill="#000" opacity="0.3"/><g filter="url(#hbb)"><ellipse cx="0" cy="14" rx="5" ry="8" fill="#2a1c9a"/><ellipse cx="0" cy="33" rx="6.5" ry="5" fill="#2a1c9a"/></g><g filter="url(#hb)"><ellipse cx="0" cy="14" rx="4" ry="5" fill="#3a30c8"/><ellipse cx="0" cy="5" rx="1.8" ry="3.5" fill="#48c038"/><ellipse cx="-1" cy="17" rx="2" ry="5" fill="#48c8d0"/><ellipse cx="2" cy="30" rx="2.2" ry="2.2" fill="#48c038"/><ellipse cx="3" cy="32" rx="1.6" ry="1.6" fill="#ff1a10"/><ellipse cx="-3" cy="33" rx="1.6" ry="1.6" fill="#48c8d0"/><ellipse cx="-6" cy="4" rx="1.4" ry="1.6" fill="#48c8d0"/></g></g>
<rect x="44.6" y="196.9" width="243.4" height="1.3" fill="#e8e8e8" />
<rect x="44.6" y="242.1" width="243.4" height="1.3" fill="#e8e8e8" />
<rect x="165.6" y="153.9" width="1.1" height="131.29999999999998" fill="#e8e8e8" />
<rect x="287.2" y="153.9" width="0.9" height="131.29999999999998" fill="#cfcfcf" />
<rect x="289.9" y="200.1" width="4.7" height="85.2" fill="url(#cbar)" />
<text x="298.6" y="202.7" font-size="7.1" fill="#231f20">2.0 × 10<tspan dy="-3" font-size="4.6">7</tspan></text>
<text x="298.6" y="219.9" font-size="7.1" fill="#231f20">1.6 × 10<tspan dy="-3" font-size="4.6">7</tspan></text>
<text x="298.6" y="237.1" font-size="7.1" fill="#231f20">1.2 × 10<tspan dy="-3" font-size="4.6">7</tspan></text>
<text x="298.6" y="254.4" font-size="7.1" fill="#231f20">8.0 × 10<tspan dy="-3" font-size="4.6">6</tspan></text>
<text x="298.6" y="271.6" font-size="7.1" fill="#231f20">4.0 × 10<tspan dy="-3" font-size="4.6">6</tspan></text>
<text x="298.6" y="285.5" font-size="7.1" fill="#231f20">2.0 × 10<tspan dy="-3" font-size="4.6">5</tspan></text>
<rect x="358.4" y="171.4" width="80.6" height="80.4" fill="#dad7d1" stroke="#6a6a6a" stroke-width="0.8" />
<rect x="359" y="231" width="79.5" height="20.3" fill="#dfdcd6" />
<line x1="361.0" y1="238" x2="361.0" y2="243" stroke="#b4b0aa" stroke-width="0.4" />
<line x1="362.95" y1="238" x2="362.95" y2="241" stroke="#b4b0aa" stroke-width="0.4" />
<line x1="364.9" y1="238" x2="364.9" y2="241" stroke="#b4b0aa" stroke-width="0.4" />
<line x1="366.85" y1="238" x2="366.85" y2="241" stroke="#b4b0aa" stroke-width="0.4" />
<line x1="368.8" y1="238" x2="368.8" y2="241" stroke="#b4b0aa" stroke-width="0.4" />
<line x1="370.75" y1="238" x2="370.75" y2="243" stroke="#b4b0aa" stroke-width="0.4" />
<line x1="372.7" y1="238" x2="372.7" y2="241" stroke="#b4b0aa" stroke-width="0.4" />
<line x1="374.65" y1="238" x2="374.65" y2="241" stroke="#b4b0aa" stroke-width="0.4" />
<line x1="376.6" y1="238" x2="376.6" y2="241" stroke="#b4b0aa" stroke-width="0.4" />
<line x1="378.55" y1="238" x2="378.55" y2="241" stroke="#b4b0aa" stroke-width="0.4" />
<line x1="380.5" y1="238" x2="380.5" y2="243" stroke="#b4b0aa" stroke-width="0.4" />
<line x1="382.45" y1="238" x2="382.45" y2="241" stroke="#b4b0aa" stroke-width="0.4" />
<line x1="384.4" y1="238" x2="384.4" y2="241" stroke="#b4b0aa" stroke-width="0.4" />
<line x1="386.35" y1="238" x2="386.35" y2="241" stroke="#b4b0aa" stroke-width="0.4" />
<line x1="388.3" y1="238" x2="388.3" y2="241" stroke="#b4b0aa" stroke-width="0.4" />
<line x1="390.25" y1="238" x2="390.25" y2="243" stroke="#b4b0aa" stroke-width="0.4" />
<line x1="392.2" y1="238" x2="392.2" y2="241" stroke="#b4b0aa" stroke-width="0.4" />
<line x1="394.15" y1="238" x2="394.15" y2="241" stroke="#b4b0aa" stroke-width="0.4" />
<line x1="396.1" y1="238" x2="396.1" y2="241" stroke="#b4b0aa" stroke-width="0.4" />
<line x1="398.05" y1="238" x2="398.05" y2="241" stroke="#b4b0aa" stroke-width="0.4" />
<line x1="400.0" y1="238" x2="400.0" y2="243" stroke="#b4b0aa" stroke-width="0.4" />
<line x1="401.95" y1="238" x2="401.95" y2="241" stroke="#b4b0aa" stroke-width="0.4" />
<line x1="403.9" y1="238" x2="403.9" y2="241" stroke="#b4b0aa" stroke-width="0.4" />
<line x1="405.85" y1="238" x2="405.85" y2="241" stroke="#b4b0aa" stroke-width="0.4" />
<line x1="407.8" y1="238" x2="407.8" y2="241" stroke="#b4b0aa" stroke-width="0.4" />
<line x1="409.75" y1="238" x2="409.75" y2="243" stroke="#b4b0aa" stroke-width="0.4" />
<line x1="411.7" y1="238" x2="411.7" y2="241" stroke="#b4b0aa" stroke-width="0.4" />
<line x1="413.65" y1="238" x2="413.65" y2="241" stroke="#b4b0aa" stroke-width="0.4" />
<line x1="415.6" y1="238" x2="415.6" y2="241" stroke="#b4b0aa" stroke-width="0.4" />
<line x1="417.55" y1="238" x2="417.55" y2="241" stroke="#b4b0aa" stroke-width="0.4" />
<line x1="419.5" y1="238" x2="419.5" y2="243" stroke="#b4b0aa" stroke-width="0.4" />
<line x1="421.45" y1="238" x2="421.45" y2="241" stroke="#b4b0aa" stroke-width="0.4" />
<line x1="423.4" y1="238" x2="423.4" y2="241" stroke="#b4b0aa" stroke-width="0.4" />
<line x1="425.35" y1="238" x2="425.35" y2="241" stroke="#b4b0aa" stroke-width="0.4" />
<line x1="427.3" y1="238" x2="427.3" y2="241" stroke="#b4b0aa" stroke-width="0.4" />
<line x1="429.25" y1="238" x2="429.25" y2="243" stroke="#b4b0aa" stroke-width="0.4" />
<line x1="431.2" y1="238" x2="431.2" y2="241" stroke="#b4b0aa" stroke-width="0.4" />
<line x1="433.15" y1="238" x2="433.15" y2="241" stroke="#b4b0aa" stroke-width="0.4" />
<line x1="435.1" y1="238" x2="435.1" y2="241" stroke="#b4b0aa" stroke-width="0.4" />
<line x1="437.05" y1="238" x2="437.05" y2="241" stroke="#b4b0aa" stroke-width="0.4" />
<line x1="359" y1="238" x2="438.5" y2="238" stroke="#bcb8b2" stroke-width="0.4" />
<line x1="359" y1="244.5" x2="438.5" y2="244.5" stroke="#c4c0ba" stroke-width="0.4" />
<text x="370.3" y="234.5" font-size="3" text-anchor="middle" fill="#888" >1</text>
<text x="379.7" y="234.5" font-size="3" text-anchor="middle" fill="#888" >2</text>
<text x="389.1" y="234.5" font-size="3" text-anchor="middle" fill="#888" >3</text>
<text x="398.5" y="234.5" font-size="3" text-anchor="middle" fill="#888" >4</text>
<text x="407.9" y="234.5" font-size="3" text-anchor="middle" fill="#888" >5</text>
<text x="417.3" y="234.5" font-size="3" text-anchor="middle" fill="#888" >6</text>
<text x="426.7" y="234.5" font-size="3" text-anchor="middle" fill="#888" >7</text>
<text x="436.1" y="234.5" font-size="3" text-anchor="middle" fill="#888" >8</text>
<text x="361" y="234.5" font-size="2.6" fill="#888" >Km</text>
<text x="361" y="247.5" font-size="2.6" fill="#888" >Km</text>
<text x="384.5" y="247.5" font-size="3" text-anchor="middle" fill="#888" >1</text>
<text x="407.5" y="247.5" font-size="3" text-anchor="middle" fill="#888" >2</text>
<text x="430.5" y="247.5" font-size="3" text-anchor="middle" fill="#888" >3</text>
<path d="M370.17,185.16 Q374.43,192.10 371.11,199.03" fill="none" stroke="#650e20" stroke-width="5.53" stroke-linecap="round"/>
<path d="M383.62,183.22 Q388.76,190.95 384.76,198.68" fill="none" stroke="#650e20" stroke-width="6.65" stroke-linecap="round"/>
<path d="M398.85,184.65 Q403.54,191.65 399.89,198.66" fill="none" stroke="#650e20" stroke-width="6.09" stroke-linecap="round"/>
<path d="M413.97,181.57 Q418.40,190.35 414.95,199.13" fill="none" stroke="#650e20" stroke-width="5.74" stroke-linecap="round"/>
<path d="M429.55,183.25 Q433.33,190.75 430.39,198.25" fill="none" stroke="#650e20" stroke-width="4.90" stroke-linecap="round"/>
<path d="M371.75,217.05 Q371.16,221.90 372.12,226.75" fill="none" stroke="#650e20" stroke-width="3.30" stroke-linecap="round"/>
<path d="M384.75,215.45 Q385.91,220.75 385.23,226.05" fill="none" stroke="#650e20" stroke-width="3.30" stroke-linecap="round"/>
<path d="M398.85,217.05 Q399.04,221.45 399.27,225.85" fill="none" stroke="#650e20" stroke-width="3.30" stroke-linecap="round"/>
<path d="M414.65,214.46 Q417.52,220.15 415.29,225.84" fill="none" stroke="#650e20" stroke-width="3.71" stroke-linecap="round"/>
<path d="M432.25,213.35 Q434.95,219.40 432.85,225.45" fill="none" stroke="#650e20" stroke-width="3.50" stroke-linecap="round"/>
<line x1="345.1" y1="181.2" x2="345.1" y2="227.9" stroke="#231f20" stroke-width="0.9" />
<text x="341.8" y="206.5" font-size="7.8" text-anchor="middle" font-style="italic" transform="rotate(-90 341.8 206.5)" >Prmt9</text>
<text x="354.8" y="188.8" font-size="7.8" text-anchor="middle" transform="rotate(-90 354.8 188.8)" >WT</text>
<text x="354.8" y="221.2" font-size="7.8" text-anchor="middle" transform="rotate(-90 354.8 221.2)" >KO</text>
<text x="553.5" y="159.7" font-size="7.95" text-anchor="middle" >MA9-ITD (bone marrow)</text>
<text x="552.6" y="171.7" font-size="7.7" text-anchor="middle" >&lt;0.0001</text>
<line x1="513.3" y1="182.5" x2="513.3" y2="263.1" stroke="#231f20" stroke-width="0.9" />
<line x1="513.3" y1="263.1" x2="592" y2="263.1" stroke="#231f20" stroke-width="0.9" />
<line x1="510.69999999999993" y1="263.1" x2="513.3" y2="263.1" stroke="#231f20" stroke-width="0.9" />
<text x="509.29999999999995" y="265.6" font-size="7.1" text-anchor="end" >0</text>
<line x1="510.69999999999993" y1="247.04000000000002" x2="513.3" y2="247.04000000000002" stroke="#231f20" stroke-width="0.9" />
<text x="509.29999999999995" y="249.54000000000002" font-size="7.1" text-anchor="end" >20</text>
<line x1="510.69999999999993" y1="230.98000000000002" x2="513.3" y2="230.98000000000002" stroke="#231f20" stroke-width="0.9" />
<text x="509.29999999999995" y="233.48000000000002" font-size="7.1" text-anchor="end" >40</text>
<line x1="510.69999999999993" y1="214.92000000000002" x2="513.3" y2="214.92000000000002" stroke="#231f20" stroke-width="0.9" />
<text x="509.29999999999995" y="217.42000000000002" font-size="7.1" text-anchor="end" >60</text>
<line x1="510.69999999999993" y1="198.86" x2="513.3" y2="198.86" stroke="#231f20" stroke-width="0.9" />
<text x="509.29999999999995" y="201.36" font-size="7.1" text-anchor="end" >80</text>
<line x1="510.69999999999993" y1="182.8" x2="513.3" y2="182.8" stroke="#231f20" stroke-width="0.9" />
<text x="509.29999999999995" y="185.3" font-size="7.1" text-anchor="end" >100</text>
<text x="491.9" y="222.2" font-size="8.0" text-anchor="middle" transform="rotate(-90 491.9 222.2)" >Percentage CD45.2</text>
<path d="M537.2,183.5 V176.2 H570.4 V203.4" fill="none" stroke="#231f20" stroke-width="0.9" />
<circle cx="537.2" cy="184.6" r="1.9" fill="#111" />
<circle cx="537.2" cy="190" r="1.9" fill="#111" />
<circle cx="537.2" cy="193.8" r="1.9" fill="#111" />
<circle cx="537.2" cy="199.5" r="1.9" fill="#111" />
<circle cx="537.2" cy="207.8" r="1.9" fill="#111" />
<line x1="525.5" y1="196.5" x2="547.7" y2="196.5" stroke="#111" stroke-width="1" />
<line x1="532" y1="191.9" x2="542.6" y2="191.9" stroke="#111" stroke-width="0.9" />
<line x1="532" y1="200.2" x2="542.6" y2="200.2" stroke="#111" stroke-width="0.9" />
<rect x="568.0" y="237.5" width="3.6" height="3.6" fill="#e5136e" />
<rect x="568.7" y="246.39999999999998" width="3.6" height="3.6" fill="#e5136e" />
<rect x="565.4000000000001" y="251.89999999999998" width="3.6" height="3.6" fill="#e5136e" />
<rect x="572.5" y="255.2" width="3.6" height="3.6" fill="#e5136e" />
<rect x="568.0" y="258.59999999999997" width="3.6" height="3.6" fill="#e5136e" />
<line x1="559.2" y1="252.2" x2="580.9" y2="252.2" stroke="#e5136e" stroke-width="1" />
<line x1="565" y1="248.2" x2="576" y2="248.2" stroke="#e5136e" stroke-width="0.9" />
<line x1="565" y1="256.2" x2="576" y2="256.2" stroke="#e5136e" stroke-width="0.9" />
<text x="491.5" y="274.8" font-size="7.8" font-style="italic" >Prmt9:</text>
<text x="537.2" y="274.8" font-size="7.8" text-anchor="middle" >WT</text>
<text x="570.6" y="274.8" font-size="7.8" text-anchor="middle" >KO</text>
<line x1="46.1" y1="331.7" x2="46.1" y2="411.8" stroke="#231f20" stroke-width="0.9" />
<line x1="46.1" y1="411.8" x2="167" y2="411.8" stroke="#231f20" stroke-width="0.9" />
<line x1="43.1" y1="411.8" x2="46.1" y2="411.8" stroke="#231f20" stroke-width="0.9" />
<text x="40.9" y="414.3" font-size="7.4" text-anchor="end" >0</text>
<line x1="43.1" y1="397.3" x2="46.1" y2="397.3" stroke="#231f20" stroke-width="0.9" />
<text x="40.9" y="399.8" font-size="7.4" text-anchor="end" >20</text>
<line x1="43.1" y1="382.8" x2="46.1" y2="382.8" stroke="#231f20" stroke-width="0.9" />
<text x="40.9" y="385.3" font-size="7.4" text-anchor="end" >40</text>
<line x1="43.1" y1="368.3" x2="46.1" y2="368.3" stroke="#231f20" stroke-width="0.9" />
<text x="40.9" y="370.8" font-size="7.4" text-anchor="end" >60</text>
<line x1="43.1" y1="353.8" x2="46.1" y2="353.8" stroke="#231f20" stroke-width="0.9" />
<text x="40.9" y="356.3" font-size="7.4" text-anchor="end" >80</text>
<line x1="43.1" y1="339.3" x2="46.1" y2="339.3" stroke="#231f20" stroke-width="0.9" />
<text x="40.9" y="341.8" font-size="7.4" text-anchor="end" >100</text>
<line x1="46.1" y1="411.8" x2="46.1" y2="414.40000000000003" stroke="#231f20" stroke-width="0.9" />
<text x="46.1" y="422.3" font-size="7.4" text-anchor="middle" >0</text>
<line x1="80.606" y1="411.8" x2="80.606" y2="414.40000000000003" stroke="#231f20" stroke-width="0.9" />
<text x="80.606" y="422.3" font-size="7.4" text-anchor="middle" >20</text>
<line x1="115.112" y1="411.8" x2="115.112" y2="414.40000000000003" stroke="#231f20" stroke-width="0.9" />
<text x="115.112" y="422.3" font-size="7.4" text-anchor="middle" >40</text>
<line x1="149.618" y1="411.8" x2="149.618" y2="414.40000000000003" stroke="#231f20" stroke-width="0.9" />
<text x="149.618" y="422.3" font-size="7.4" text-anchor="middle" >60</text>
<text x="102.1" y="434.0" font-size="8.1" text-anchor="middle" >Time (days)</text>
<text x="23.7" y="373.9" font-size="8.2" text-anchor="middle" transform="rotate(-90 23.7 373.9)" >Percentage survival</text>
<path d="M46.10,339.30 L122.01,339.30 L122.01,353.80 L128.91,353.80 L128.91,368.30 L137.54,368.30 L137.54,382.80 L146.17,382.80 L146.17,397.30 L149.62,397.30 L149.62,411.80" fill="none" stroke="#e5136e" stroke-width="1.4" />
<path d="M46.10,339.30 L97.86,339.30 L97.86,353.80 L101.31,353.80 L101.31,368.30 L106.49,368.30 L106.49,382.80 L108.21,382.80 L108.21,411.80" fill="none" stroke="#111" stroke-width="1.0" />
<line x1="46.1" y1="339.3" x2="97.85900000000001" y2="339.3" stroke="#8a2050" stroke-width="1.3" />
<circle cx="97.85900000000001" cy="353.8" r="1.5" fill="#111" />
<circle cx="101.3096" cy="368.3" r="1.5" fill="#111" />
<circle cx="106.4855" cy="382.8" r="1.5" fill="#111" />
<circle cx="108.2108" cy="411.8" r="1.5" fill="#111" />
<circle cx="122.01320000000001" cy="353.8" r="1.5" fill="#e5136e" />
<circle cx="128.9144" cy="368.3" r="1.5" fill="#e5136e" />
<circle cx="137.5409" cy="382.8" r="1.5" fill="#e5136e" />
<circle cx="146.16740000000001" cy="397.3" r="1.5" fill="#e5136e" />
<circle cx="149.618" cy="411.8" r="1.5" fill="#e5136e" />
<line x1="49.3" y1="330.9" x2="58.6" y2="330.9" stroke="#111" stroke-width="1" />
<circle cx="53.9" cy="330.9" r="1.5" fill="#111" />
<line x1="107.4" y1="330.9" x2="115.6" y2="330.9" stroke="#e5136e" stroke-width="1.2" />
<circle cx="111.4" cy="330.9" r="1.5" fill="#e5136e" />
<text x="61.2" y="333.6" font-size="7.8" fill="#231f20"><tspan font-style="italic">Prmt9</tspan> WT</text>
<text x="117.9" y="333.6" font-size="7.8" fill="#231f20"><tspan font-style="italic">Prmt9</tspan> KO</text>
<text x="69.6" y="351.8" font-size="7.8" text-anchor="middle" >pIpC</text>
<line x1="68.7" y1="342" x2="68.7" y2="346" stroke="#111" stroke-width="0.8" />
<path d="M68.7,340.6 L70.2,343.3 L67.2,343.3 Z" fill="#111"/>
<line x1="110" y1="395.6" x2="144.5" y2="395.6" stroke="#111" stroke-width="0.8" />
<path d="M109.2,395.6 L111.8,394.1 L111.8,397.1 Z" fill="#111"/><path d="M145.3,395.6 L142.7,394.1 L142.7,397.1 Z" fill="#111"/>
<text x="110.2" y="406" font-size="6.7" fill="#231f20"><tspan font-style="italic">P</tspan> = 2.7 × 10<tspan dy="-3" font-size="5">−3</tspan></text>
<text transform="translate(210.8,354.7) scale(0.87,1)" font-size="8.6" text-anchor="end">shCtrl:</text>
<text transform="translate(210.8,362.2) scale(0.87,1)" font-size="8.6" text-anchor="end">shPRMT9:</text>
<text transform="translate(210.8,369.6) scale(0.87,1)" font-size="8.6" text-anchor="end">Mock:</text>
<text transform="translate(210.8,377.5) scale(0.87,1)" font-size="8.6" text-anchor="end" font-style="italic">PRMT9:</text>
<rect x="221.77" y="351.73" width="3.06" height="0.94" fill="#231f20"/><rect x="222.83" y="350.67" width="0.94" height="3.06" fill="#231f20"/>
<rect x="240.10" y="351.55" width="3.4" height="1.3" fill="#231f20"/>
<rect x="258.70" y="351.55" width="3.4" height="1.3" fill="#231f20"/>
<rect x="278.50" y="351.55" width="3.4" height="1.3" fill="#231f20"/>
<rect x="221.60" y="358.95" width="3.4" height="1.3" fill="#231f20"/>
<rect x="240.27" y="359.13" width="3.06" height="0.94" fill="#231f20"/><rect x="241.33" y="358.07" width="0.94" height="3.06" fill="#231f20"/>
<rect x="258.87" y="359.13" width="3.06" height="0.94" fill="#231f20"/><rect x="259.93" y="358.07" width="0.94" height="3.06" fill="#231f20"/>
<rect x="278.67" y="359.13" width="3.06" height="0.94" fill="#231f20"/><rect x="279.73" y="358.07" width="0.94" height="3.06" fill="#231f20"/>
<rect x="221.77" y="366.53" width="3.06" height="0.94" fill="#231f20"/><rect x="222.83" y="365.47" width="0.94" height="3.06" fill="#231f20"/>
<rect x="240.27" y="366.53" width="3.06" height="0.94" fill="#231f20"/><rect x="241.33" y="365.47" width="0.94" height="3.06" fill="#231f20"/>
<rect x="258.70" y="366.35" width="3.4" height="1.3" fill="#231f20"/>
<rect x="278.50" y="366.35" width="3.4" height="1.3" fill="#231f20"/>
<rect x="221.60" y="374.25" width="3.4" height="1.3" fill="#231f20"/>
<rect x="240.10" y="374.25" width="3.4" height="1.3" fill="#231f20"/>
<text transform="translate(260.2,377.5) scale(0.9,1)" font-size="8.6" text-anchor="middle">WT</text>
<text transform="translate(281.4,377.5) scale(0.88,1)" font-size="8.6" text-anchor="middle">Mutant</text>
<rect x="210.8" y="379.2" width="79.7" height="16.4" fill="#d8d8d8" stroke="#2a2a2a" stroke-width="1" />
<rect x="210.8" y="397" width="79.7" height="14.4" fill="#d6d6d6" stroke="#2a2a2a" stroke-width="1" />
<rect x="213.5" y="386.5" width="16.5" height="2.6" rx="1.3" fill="#0a0a0a" opacity="1" filter="url(#bl)"/>
<rect x="234" y="387.5" width="14" height="1.4" rx="0.7" fill="#a0a0a0" opacity="1" filter="url(#bl)"/>
<rect x="252" y="386.2" width="15.5" height="3.2" rx="1.6" fill="#0a0a0a" opacity="1" filter="url(#bl)"/>
<rect x="271" y="386.5" width="16.5" height="2.6" rx="1.3" fill="#111" opacity="1" filter="url(#bl)"/>
<rect x="213" y="403.3" width="18" height="3.0" rx="1.5" fill="#0a0a0a" opacity="1" filter="url(#bl)"/>
<rect x="234" y="403.3" width="15" height="3.0" rx="1.5" fill="#0a0a0a" opacity="1" filter="url(#bl)"/>
<rect x="252" y="403.3" width="16" height="3.0" rx="1.5" fill="#0a0a0a" opacity="1" filter="url(#bl)"/>
<rect x="272" y="403.3" width="16" height="3.0" rx="1.5" fill="#0a0a0a" opacity="1" filter="url(#bl)"/>
<text x="203.6" y="390.0" font-size="8.4" text-anchor="end" >95 kDa</text>
<line x1="206.4" y1="387.8" x2="210.8" y2="387.8" stroke="#231f20" stroke-width="0.9" />
<text x="203.6" y="406.0" font-size="8.4" text-anchor="end" >42 kDa</text>
<line x1="206.4" y1="404" x2="210.8" y2="404" stroke="#231f20" stroke-width="0.9" />
<text transform="translate(293.9,390.2) scale(0.9,1)" font-size="8.2">PRMT9</text>
<text x="293.9" y="406.8" font-size="8.2" >β-actin</text>
<line x1="367.7" y1="314.01" x2="367.7" y2="413.4" stroke="#231f20" stroke-width="0.9" />
<line x1="367.7" y1="413.4" x2="458.7" y2="413.4" stroke="#231f20" stroke-width="0.9" />
<line x1="364.7" y1="413.4" x2="367.7" y2="413.4" stroke="#231f20" stroke-width="0.9" />
<text transform="translate(361.5,416.0) scale(0.93,1)" font-size="7.4" text-anchor="end">0</text>
<line x1="364.7" y1="380.27" x2="367.7" y2="380.27" stroke="#231f20" stroke-width="0.9" />
<text transform="translate(361.5,382.87) scale(0.93,1)" font-size="7.4" text-anchor="end">50</text>
<line x1="364.7" y1="347.14" x2="367.7" y2="347.14" stroke="#231f20" stroke-width="0.9" />
<text transform="translate(361.5,349.74) scale(0.93,1)" font-size="7.4" text-anchor="end">100</text>
<line x1="364.7" y1="314.01" x2="367.7" y2="314.01" stroke="#231f20" stroke-width="0.9" />
<text transform="translate(361.5,316.61) scale(0.93,1)" font-size="7.4" text-anchor="end">150</text>
<text x="346.9" y="363.1" font-size="8.2" text-anchor="middle" transform="rotate(-90 346.9 363.1)" >Relative cell viability</text>
<rect x="375.6" y="346.4774" width="13.5" height="66.92259999999999" fill="#7a7a7a" stroke="#111" stroke-width="1" />
<line x1="382.35" y1="413.4" x2="382.35" y2="415.4" stroke="#231f20" stroke-width="0.8" />
<rect x="396.2" y="392.8594" width="14.100000000000023" height="20.540599999999984" fill="#f88cb6" stroke="#e5136e" stroke-width="1" />
<line x1="403.25" y1="413.4" x2="403.25" y2="415.4" stroke="#231f20" stroke-width="0.8" />
<rect x="417.2" y="351.77819999999997" width="13.699999999999989" height="61.62180000000001" fill="#82bdb8" stroke="#1f8a86" stroke-width="1" />
<line x1="424.04999999999995" y1="413.4" x2="424.04999999999995" y2="415.4" stroke="#231f20" stroke-width="0.8" />
<rect x="438.3" y="390.20899999999995" width="13.5" height="23.19100000000003" fill="#9d86c6" stroke="#4c1d96" stroke-width="1" />
<line x1="445.05" y1="413.4" x2="445.05" y2="415.4" stroke="#231f20" stroke-width="0.8" />
<circle cx="377" cy="342.3" r="1.7" fill="#111" />
<circle cx="381" cy="343.6" r="1.7" fill="#111" />
<circle cx="385.5" cy="344.4" r="1.7" fill="#111" />
<circle cx="388" cy="343" r="1.7" fill="#111" />
<circle cx="377" cy="347" r="1.7" fill="#111" />
<circle cx="380.4" cy="348.8" r="1.7" fill="#111" />
<circle cx="384" cy="347.6" r="1.7" fill="#111" />
<circle cx="388" cy="348.6" r="1.7" fill="#111" />
<line x1="376" y1="345.5" x2="389" y2="345.5" stroke="#111" stroke-width="0.8" />
<circle cx="399" cy="392" r="1.7" fill="#e5136e" />
<circle cx="403" cy="390.6" r="1.7" fill="#e5136e" />
<circle cx="407" cy="391.6" r="1.7" fill="#e5136e" />
<circle cx="398.5" cy="394" r="1.7" fill="#e5136e" />
<circle cx="405" cy="393.5" r="1.7" fill="#e5136e" />
<circle cx="409" cy="393.8" r="1.7" fill="#e5136e" />
<path d="M419.2,350.748 L421.09999999999997,354.168 L417.3,354.168 Z" fill="#1f8a86"/>
<path d="M422.5,348.548 L424.4,351.968 L420.6,351.968 Z" fill="#1f8a86"/>
<path d="M426,349.548 L427.9,352.968 L424.1,352.968 Z" fill="#1f8a86"/>
<path d="M429,351.248 L430.9,354.668 L427.1,354.668 Z" fill="#1f8a86"/>
<path d="M421,352.448 L422.9,355.868 L419.1,355.868 Z" fill="#1f8a86"/>
<path d="M427,352.448 L428.9,355.868 L425.1,355.868 Z" fill="#1f8a86"/>
<circle cx="440" cy="389.8" r="1.7" fill="#4c1d96" />
<circle cx="443.5" cy="389" r="1.7" fill="#4c1d96" />
<circle cx="447" cy="389.6" r="1.7" fill="#4c1d96" />
<circle cx="450" cy="390" r="1.7" fill="#4c1d96" />
<circle cx="445" cy="390.8" r="1.7" fill="#4c1d96" />
<path d="M381.4,332.2 V328.4 H401.7 V332.2" fill="none" stroke="#231f20" stroke-width="0.9" />
<path d="M405,332.2 V328.4 H425.3 V332.2" fill="none" stroke="#231f20" stroke-width="0.9" />
<path d="M428.3,332.2 V328.4 H448.6 V332.2" fill="none" stroke="#231f20" stroke-width="0.9" />
<text x="389.4" y="325.3" font-size="7.8" fill="#231f20" transform="rotate(-32.5 389.4 325.3)"><tspan font-style="italic">P</tspan> &lt; 0.0001</text>
<text x="413.4" y="325.3" font-size="7.8" fill="#231f20" transform="rotate(-32.5 413.4 325.3)"><tspan font-style="italic">P</tspan> &lt; 0.0001</text>
<text x="437.5" y="325.3" font-size="7.8" fill="#231f20" transform="rotate(-32.5 437.5 325.3)"><tspan font-style="italic">P</tspan> &lt; 0.0001</text>
<text transform="translate(370.7,425.3) scale(0.98,1)" font-size="8.6" text-anchor="end">shCtrl</text>
<text transform="translate(370.7,436.2) scale(0.86,1)" font-size="8.6" text-anchor="end">shPRMT9</text>
<text transform="translate(370.7,447.8) scale(0.92,1)" font-size="8.6" text-anchor="end">Mock</text>
<text transform="translate(370.7,459.6) scale(0.84,1)" font-size="8.6" text-anchor="end" font-style="italic">PRMT9</text>
<rect x="380.58" y="421.23" width="3.24" height="0.94" fill="#231f20"/><rect x="381.73" y="420.08" width="0.94" height="3.24" fill="#231f20"/>
<rect x="401.20" y="421.05" width="3.6" height="1.3" fill="#231f20"/>
<rect x="422.20" y="421.05" width="3.6" height="1.3" fill="#231f20"/>
<rect x="443.20" y="421.05" width="3.6" height="1.3" fill="#231f20"/>
<rect x="380.40" y="432.55" width="3.6" height="1.3" fill="#231f20"/>
<rect x="401.38" y="432.73" width="3.24" height="0.94" fill="#231f20"/><rect x="402.53" y="431.58" width="0.94" height="3.24" fill="#231f20"/>
<rect x="422.38" y="432.73" width="3.24" height="0.94" fill="#231f20"/><rect x="423.53" y="431.58" width="0.94" height="3.24" fill="#231f20"/>
<rect x="443.38" y="432.73" width="3.24" height="0.94" fill="#231f20"/><rect x="444.53" y="431.58" width="0.94" height="3.24" fill="#231f20"/>
<rect x="380.58" y="444.33" width="3.24" height="0.94" fill="#231f20"/><rect x="381.73" y="443.18" width="0.94" height="3.24" fill="#231f20"/>
<rect x="401.38" y="444.33" width="3.24" height="0.94" fill="#231f20"/><rect x="402.53" y="443.18" width="0.94" height="3.24" fill="#231f20"/>
<rect x="422.20" y="444.15" width="3.6" height="1.3" fill="#231f20"/>
<rect x="443.20" y="444.15" width="3.6" height="1.3" fill="#231f20"/>
<rect x="380.40" y="455.95" width="3.6" height="1.3" fill="#231f20"/>
<rect x="401.20" y="455.95" width="3.6" height="1.3" fill="#231f20"/>
<text transform="translate(437.6,459.6) scale(0.91,1)" font-size="8.6" text-anchor="middle">WT Mutant</text>
<line x1="514.2" y1="309.6" x2="514.2" y2="413.6" stroke="#231f20" stroke-width="0.9" />
<line x1="514.2" y1="413.6" x2="603.6" y2="413.6" stroke="#231f20" stroke-width="0.9" />
<line x1="511.20000000000005" y1="413.6" x2="514.2" y2="413.6" stroke="#231f20" stroke-width="0.9" />
<text transform="translate(509.6,416.20000000000005) scale(0.93,1)" font-size="7.4" text-anchor="end">0</text>
<line x1="511.20000000000005" y1="392.8" x2="514.2" y2="392.8" stroke="#231f20" stroke-width="0.9" />
<text transform="translate(509.6,395.40000000000003) scale(0.93,1)" font-size="7.4" text-anchor="end">10</text>
<line x1="511.20000000000005" y1="372.0" x2="514.2" y2="372.0" stroke="#231f20" stroke-width="0.9" />
<text transform="translate(509.6,374.6) scale(0.93,1)" font-size="7.4" text-anchor="end">20</text>
<line x1="511.20000000000005" y1="351.20000000000005" x2="514.2" y2="351.20000000000005" stroke="#231f20" stroke-width="0.9" />
<text transform="translate(509.6,353.80000000000007) scale(0.93,1)" font-size="7.4" text-anchor="end">30</text>
<line x1="511.20000000000005" y1="330.40000000000003" x2="514.2" y2="330.40000000000003" stroke="#231f20" stroke-width="0.9" />
<text transform="translate(509.6,333.00000000000006) scale(0.93,1)" font-size="7.4" text-anchor="end">40</text>
<line x1="511.20000000000005" y1="309.6" x2="514.2" y2="309.6" stroke="#231f20" stroke-width="0.9" />
<text transform="translate(509.6,312.20000000000005) scale(0.93,1)" font-size="7.4" text-anchor="end">50</text>
<text transform="translate(496.4,361.6) rotate(-90)" font-size="8.2" text-anchor="middle" fill="#231f20">Annexin <tspan font-style="italic">V</tspan><tspan dy="-3" font-size="5.6">+</tspan><tspan dy="3"> cells (%)</tspan></text>
<rect x="522.2" y="394.88" width="13.699999999999932" height="18.720000000000027" fill="#828282" stroke="#111" stroke-width="1" />
<line x1="529.05" y1="413.6" x2="529.05" y2="415.6" stroke="#231f20" stroke-width="0.8" />
<rect x="543.1" y="333.52000000000004" width="13.5" height="80.07999999999998" fill="#ff7eac" stroke="#e5136e" stroke-width="1" />
<line x1="549.85" y1="413.6" x2="549.85" y2="415.6" stroke="#231f20" stroke-width="0.8" />
<rect x="563.2" y="388.848" width="13.699999999999932" height="24.75200000000001" fill="#82bdb8" stroke="#1f8a86" stroke-width="1" />
<line x1="570.05" y1="413.6" x2="570.05" y2="415.6" stroke="#231f20" stroke-width="0.8" />
<rect x="583.3" y="343.29600000000005" width="14.300000000000068" height="70.30399999999997" fill="#9d86c6" stroke="#4c1d96" stroke-width="1" />
<line x1="590.45" y1="413.6" x2="590.45" y2="415.6" stroke="#231f20" stroke-width="0.8" />
<line x1="529" y1="394.88" x2="529" y2="388.7" stroke="#111" stroke-width="1.0" />
<line x1="526.5" y1="388.7" x2="531.5" y2="388.7" stroke="#111" stroke-width="1.0" />
<circle cx="523.6" cy="386.7" r="2.0" fill="#111" />
<circle cx="528.9" cy="388.7" r="2.0" fill="#111" />
<circle cx="524.2" cy="399" r="2.0" fill="#111" />
<circle cx="528.3" cy="399" r="2.0" fill="#111" />
<circle cx="533.9" cy="399" r="2.0" fill="#111" />
<line x1="549.8" y1="325.2" x2="549.8" y2="340.5" stroke="#e5136e" stroke-width="1.1" />
<line x1="546.6" y1="325.2" x2="553" y2="325.2" stroke="#e5136e" stroke-width="1.1" />
<line x1="546.6" y1="340.5" x2="553" y2="340.5" stroke="#e5136e" stroke-width="1.1" />
<rect x="543.6999999999999" y="323.5" width="4.2" height="4.2" fill="#e5136e" />
<rect x="550.4" y="322.7" width="4.2" height="4.2" fill="#e5136e" />
<rect x="543.6999999999999" y="331.29999999999995" width="4.2" height="4.2" fill="#e5136e" />
<rect x="549.8" y="331.29999999999995" width="4.2" height="4.2" fill="#e5136e" />
<rect x="546.6999999999999" y="337.4" width="4.2" height="4.2" fill="#e5136e" />
<rect x="547.3" y="343.59999999999997" width="4.2" height="4.2" fill="#e5136e" />
<line x1="570" y1="384" x2="570" y2="395" stroke="#1f8a86" stroke-width="1.0" />
<line x1="567.2" y1="384" x2="572.8" y2="384" stroke="#1f8a86" stroke-width="1.0" />
<path d="M565.2,384.92400000000004 L567.4000000000001,388.884 L563.0,388.884 Z" fill="#1f8a86"/>
<path d="M570,382.824 L572.2,386.784 L567.8,386.784 Z" fill="#1f8a86"/>
<path d="M575.5,381.624 L577.7,385.584 L573.3,385.584 Z" fill="#1f8a86"/>
<path d="M567.9,393.124 L570.1,397.084 L565.6999999999999,397.084 Z" fill="#1f8a86"/>
<path d="M573.4,391.024 L575.6,394.984 L571.1999999999999,394.984 Z" fill="#1f8a86"/>
<line x1="590.4" y1="336.5" x2="590.4" y2="350.7" stroke="#4c1d96" stroke-width="1.0" />
<line x1="587.6" y1="336.5" x2="593.2" y2="336.5" stroke="#4c1d96" stroke-width="1.0" />
<line x1="587.6" y1="350.7" x2="593.2" y2="350.7" stroke="#4c1d96" stroke-width="1.0" />
<path d="M587.8,339.876 L590.0,335.916 L585.5999999999999,335.916 Z" fill="#4c1d96"/>
<path d="M593.9,338.876 L596.1,334.916 L591.6999999999999,334.916 Z" fill="#4c1d96"/>
<path d="M587.8,343.976 L590.0,340.016 L585.5999999999999,340.016 Z" fill="#4c1d96"/>
<path d="M592.9,343.976 L595.1,340.016 L590.6999999999999,340.016 Z" fill="#4c1d96"/>
<path d="M590.9,353.57599999999996 L593.1,349.616 L588.6999999999999,349.616 Z" fill="#4c1d96"/>
<path d="M525.7,318.6 V315.2 H543.6 V318.6" fill="none" stroke="#231f20" stroke-width="0.9" />
<path d="M550.4,318.6 V315.2 H568.6 V318.6" fill="none" stroke="#231f20" stroke-width="0.9" />
<path d="M572.3,318.6 V315.2 H590.9 V318.6" fill="none" stroke="#231f20" stroke-width="0.9" />
<text x="530.7" y="312.5" font-size="7.8" fill="#231f20" transform="rotate(-32.5 530.7 312.5)"><tspan font-style="italic">P</tspan> &lt; 0.0001</text>
<text x="556.8" y="312.5" font-size="7.8" fill="#231f20" transform="rotate(-32.5 556.8 312.5)"><tspan font-style="italic">P</tspan> &lt; 0.0001</text>
<text x="579.5" y="312.5" font-size="7.8" fill="#231f20" transform="rotate(-32.5 579.5 312.5)"><tspan font-style="italic">P</tspan> &lt; 0.0001</text>
<text transform="translate(516.6,425.3) scale(0.98,1)" font-size="8.6" text-anchor="end">shCtrl</text>
<text transform="translate(516.6,436.2) scale(0.86,1)" font-size="8.6" text-anchor="end">shPRMT9</text>
<text transform="translate(516.6,447.8) scale(0.92,1)" font-size="8.6" text-anchor="end">Mock</text>
<text transform="translate(516.6,459.6) scale(0.84,1)" font-size="8.6" text-anchor="end" font-style="italic">PRMT9</text>
<rect x="526.08" y="421.23" width="3.24" height="0.94" fill="#231f20"/><rect x="527.23" y="420.08" width="0.94" height="3.24" fill="#231f20"/>
<rect x="547.40" y="421.05" width="3.6" height="1.3" fill="#231f20"/>
<rect x="568.50" y="421.05" width="3.6" height="1.3" fill="#231f20"/>
<rect x="589.50" y="421.05" width="3.6" height="1.3" fill="#231f20"/>
<rect x="525.90" y="432.55" width="3.6" height="1.3" fill="#231f20"/>
<rect x="547.58" y="432.73" width="3.24" height="0.94" fill="#231f20"/><rect x="548.73" y="431.58" width="0.94" height="3.24" fill="#231f20"/>
<rect x="568.68" y="432.73" width="3.24" height="0.94" fill="#231f20"/><rect x="569.83" y="431.58" width="0.94" height="3.24" fill="#231f20"/>
<rect x="589.68" y="432.73" width="3.24" height="0.94" fill="#231f20"/><rect x="590.83" y="431.58" width="0.94" height="3.24" fill="#231f20"/>
<rect x="526.08" y="444.33" width="3.24" height="0.94" fill="#231f20"/><rect x="527.23" y="443.18" width="0.94" height="3.24" fill="#231f20"/>
<rect x="547.58" y="444.33" width="3.24" height="0.94" fill="#231f20"/><rect x="548.73" y="443.18" width="0.94" height="3.24" fill="#231f20"/>
<rect x="568.50" y="444.15" width="3.6" height="1.3" fill="#231f20"/>
<rect x="589.50" y="444.15" width="3.6" height="1.3" fill="#231f20"/>
<rect x="525.90" y="455.95" width="3.6" height="1.3" fill="#231f20"/>
<rect x="547.40" y="455.95" width="3.6" height="1.3" fill="#231f20"/>
<text transform="translate(583.5,459.6) scale(0.91,1)" font-size="8.6" text-anchor="middle">WT Mutant</text>
<circle cx="19.3" cy="471.8" r="0.9" fill="#111" /></svg></body></html>
